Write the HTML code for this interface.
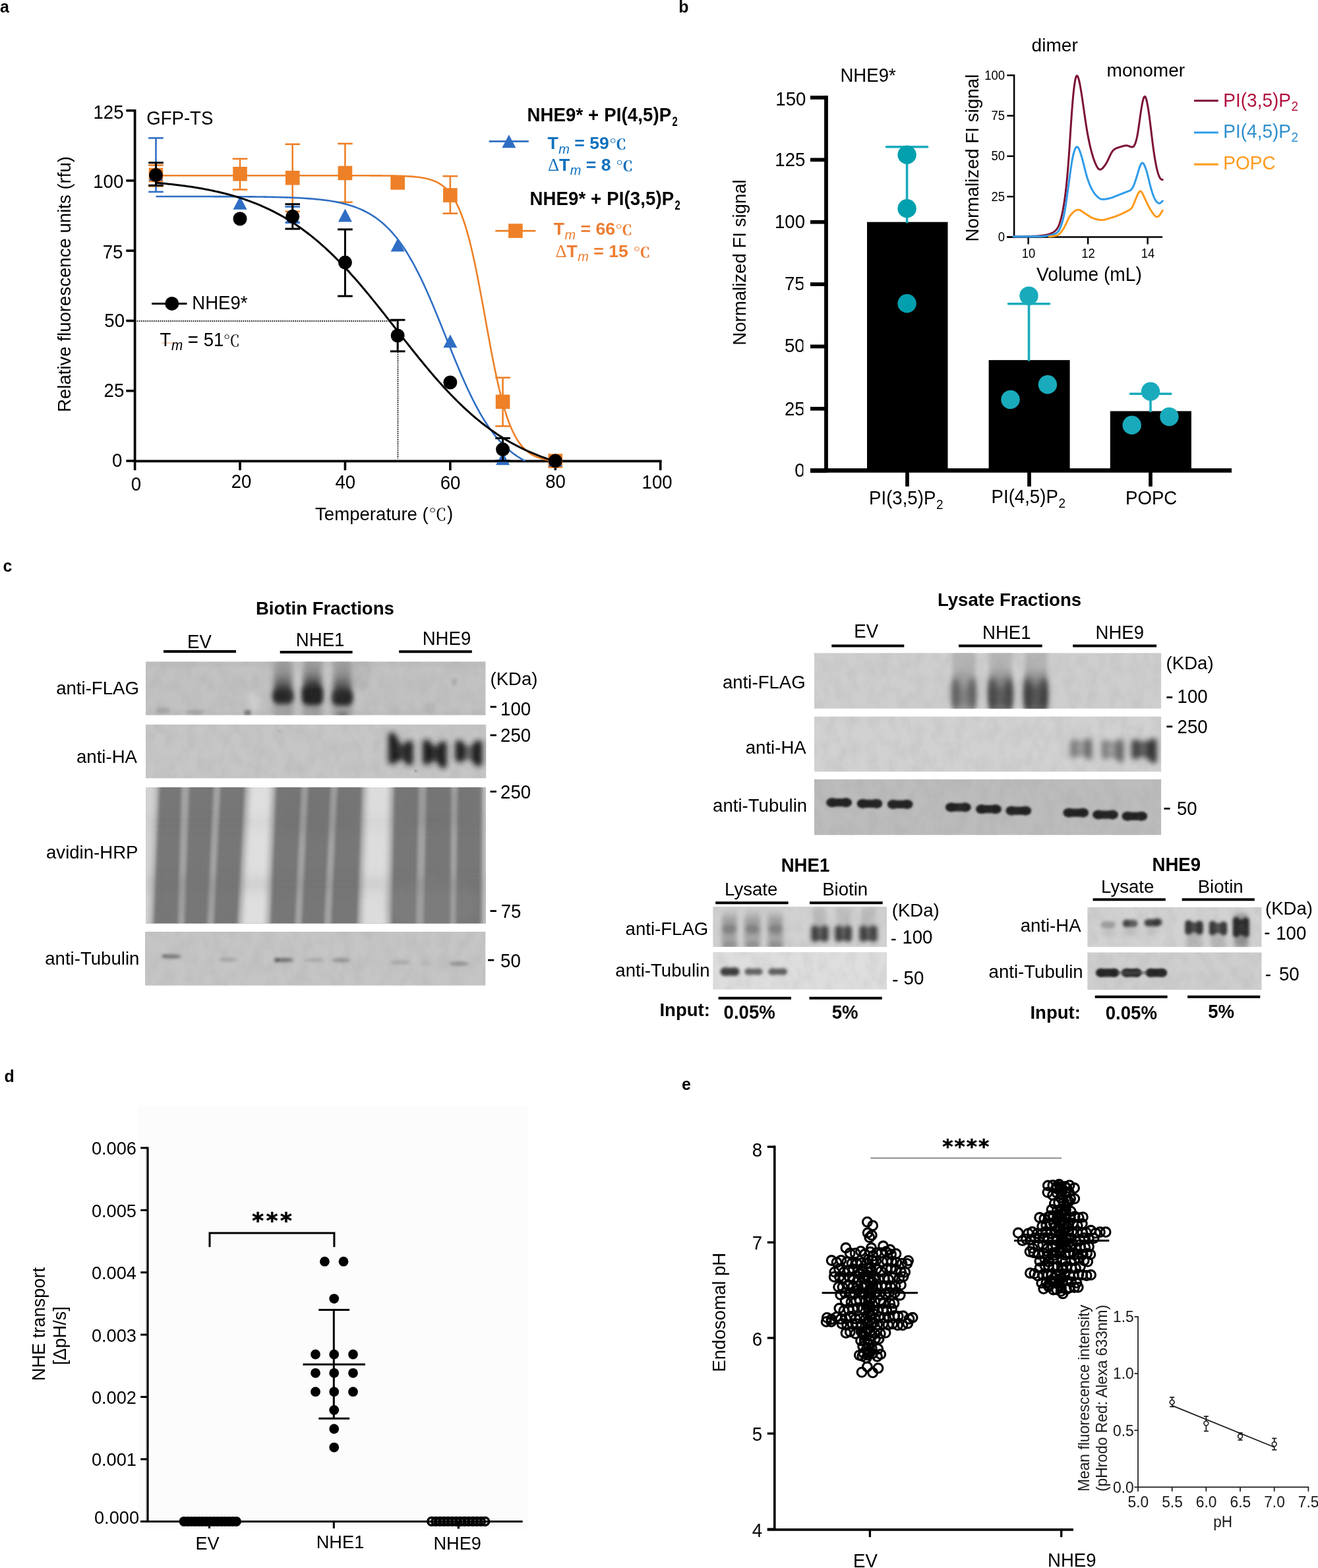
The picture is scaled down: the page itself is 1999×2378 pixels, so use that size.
<!DOCTYPE html>
<html lang="en">
<head>
<meta charset="utf-8">
<title>Figure</title>
<style>
html,body{margin:0;padding:0;background:#fff;}
body{width:1999px;height:2378px;overflow:hidden;}
svg{display:block;font-family:"Liberation Sans", sans-serif;}
text{white-space:pre;}
</style>
</head>
<body>
<svg width="1999" height="2378" viewBox="0 0 1999 2378">
<defs>
<filter id="b1" x="-30%" y="-30%" width="160%" height="160%"><feGaussianBlur stdDeviation="1.0"/></filter>
<filter id="b15" x="-30%" y="-30%" width="160%" height="160%"><feGaussianBlur stdDeviation="1.5"/></filter>
<filter id="b2" x="-30%" y="-30%" width="160%" height="160%"><feGaussianBlur stdDeviation="2.0"/></filter>
<filter id="b3" x="-30%" y="-30%" width="160%" height="160%"><feGaussianBlur stdDeviation="3.0"/></filter>
<filter id="b4" x="-30%" y="-30%" width="160%" height="160%"><feGaussianBlur stdDeviation="4.0"/></filter>
<filter id="b5" x="-30%" y="-30%" width="160%" height="160%"><feGaussianBlur stdDeviation="5.0"/></filter>
<filter id="b7" x="-30%" y="-30%" width="160%" height="160%"><feGaussianBlur stdDeviation="7.0"/></filter>
<linearGradient id="gsm1" x1="0" y1="0" x2="0" y2="1"><stop offset="0" stop-color="#6e6e6e" stop-opacity="0.35"/><stop offset="0.45" stop-color="#5a5a5a" stop-opacity="0.5"/><stop offset="0.8" stop-color="#323232" stop-opacity="0.85"/><stop offset="1" stop-color="#282828" stop-opacity="0.95"/></linearGradient>
<linearGradient id="gsm2" x1="0" y1="0" x2="0" y2="1"><stop offset="0" stop-color="#787878" stop-opacity="0.3"/><stop offset="0.35" stop-color="#646464" stop-opacity="0.5"/><stop offset="0.65" stop-color="#464646" stop-opacity="0.75"/><stop offset="1" stop-color="#5a5a5a" stop-opacity="0.6"/></linearGradient>
<linearGradient id="gR1a" x1="0" y1="0" x2="0" y2="1"><stop offset="0" stop-color="#a5a5a5" stop-opacity="0.55"/><stop offset="0.3" stop-color="#a0a0a0" stop-opacity="0.6"/><stop offset="0.5" stop-color="#919191" stop-opacity="0.8"/><stop offset="0.66" stop-color="#8c8c8c" stop-opacity="0.92"/><stop offset="0.85" stop-color="#8c8c8c" stop-opacity="0.92"/><stop offset="1" stop-color="#a5a5a5" stop-opacity="0.85"/></linearGradient>
<linearGradient id="gR1b" x1="0" y1="0" x2="0" y2="1"><stop offset="0" stop-color="#a5a5a5" stop-opacity="0.55"/><stop offset="0.3" stop-color="#a0a0a0" stop-opacity="0.6"/><stop offset="0.5" stop-color="#797979" stop-opacity="0.8"/><stop offset="0.66" stop-color="#5c5c5c" stop-opacity="0.92"/><stop offset="0.85" stop-color="#5c5c5c" stop-opacity="0.92"/><stop offset="1" stop-color="#757575" stop-opacity="0.85"/></linearGradient>
<linearGradient id="gR1c" x1="0" y1="0" x2="0" y2="1"><stop offset="0" stop-color="#a5a5a5" stop-opacity="0.55"/><stop offset="0.3" stop-color="#a0a0a0" stop-opacity="0.6"/><stop offset="0.5" stop-color="#727272" stop-opacity="0.8"/><stop offset="0.66" stop-color="#4e4e4e" stop-opacity="0.92"/><stop offset="0.85" stop-color="#4e4e4e" stop-opacity="0.92"/><stop offset="1" stop-color="#676767" stop-opacity="0.85"/></linearGradient>
<linearGradient id="gsm3" x1="0" y1="0" x2="0" y2="1"><stop offset="0" stop-color="#969696" stop-opacity="0.0"/><stop offset="0.3" stop-color="#6e6e6e" stop-opacity="0.5"/><stop offset="1" stop-color="#787878" stop-opacity="0.45"/></linearGradient>
<pattern id="grid" width="2.4" height="2.4" patternUnits="userSpaceOnUse"><rect width="2.4" height="2.4" fill="none"/><rect width="1.1" height="2.4" fill="#fff" opacity="0.13"/><rect width="2.4" height="1.1" fill="#000" opacity="0.06"/></pattern>
<filter id="grain" x="0" y="0" width="100%" height="100%" color-interpolation-filters="sRGB"><feTurbulence type="fractalNoise" baseFrequency="0.06 0.04" numOctaves="3" seed="7" result="n"/><feColorMatrix in="n" type="matrix" values="0 0 0 0 0.5  0 0 0 0 0.5  0 0 0 0 0.5  1.6 0 0 0 -0.62"/></filter>
</defs>
<g id="panel-a">
<text transform="translate(0 19.3) scale(1 1.005)" font-size="25" font-weight="bold">a</text>
<line x1="204.6" y1="486.78" x2="603.15" y2="486.78" stroke="#000" stroke-width="1.7" stroke-dasharray="1.7 1.45"/>
<line x1="603.45" y1="486.48" x2="603.45" y2="695.6" stroke="#000" stroke-width="1.7" stroke-dasharray="1.7 1.45"/>
<line x1="204.6" y1="165.9" x2="204.6" y2="700.9" stroke="#000" stroke-width="3.7"/>
<line x1="204.6" y1="699.4" x2="1003.5" y2="699.4" stroke="#000" stroke-width="3.9"/>
<line x1="191.3" y1="699" x2="204.6" y2="699" stroke="#000" stroke-width="3.6"/>
<text transform="translate(185.3 708.3) scale(1 1.045)" font-size="27.6" text-anchor="end">0</text>
<line x1="191.3" y1="592.74" x2="204.6" y2="592.74" stroke="#000" stroke-width="3.6"/>
<text transform="translate(188.3 602) scale(1 1.045)" font-size="27.6" text-anchor="end">25</text>
<line x1="191.3" y1="486.48" x2="204.6" y2="486.48" stroke="#000" stroke-width="3.6"/>
<text transform="translate(189 496.2) scale(1 1.045)" font-size="27.6" text-anchor="end">50</text>
<line x1="191.3" y1="380.22" x2="204.6" y2="380.22" stroke="#000" stroke-width="3.6"/>
<text transform="translate(186.4 392) scale(1 1.045)" font-size="27.6" text-anchor="end">75</text>
<line x1="191.3" y1="273.96" x2="204.6" y2="273.96" stroke="#000" stroke-width="3.6"/>
<text transform="translate(187.3 285) scale(1 1.045)" font-size="27.6" text-anchor="end">100</text>
<line x1="191.3" y1="167.7" x2="204.6" y2="167.7" stroke="#000" stroke-width="3.6"/>
<text transform="translate(187.5 179.9) scale(1 1.045)" font-size="27.6" text-anchor="end">125</text>
<line x1="204.6" y1="699" x2="204.6" y2="713.2" stroke="#000" stroke-width="3.6"/>
<text transform="translate(206.5 744) scale(1 1.045)" font-size="27.6" text-anchor="middle">0</text>
<line x1="364.02" y1="699" x2="364.02" y2="713.2" stroke="#000" stroke-width="3.6"/>
<text transform="translate(366.1 740.3) scale(1 1.045)" font-size="27.6" text-anchor="middle">20</text>
<line x1="523.44" y1="699" x2="523.44" y2="713.2" stroke="#000" stroke-width="3.6"/>
<text transform="translate(523.8 741) scale(1 1.045)" font-size="27.6" text-anchor="middle">40</text>
<line x1="682.86" y1="699" x2="682.86" y2="713.2" stroke="#000" stroke-width="3.6"/>
<text transform="translate(683.1 742) scale(1 1.045)" font-size="27.6" text-anchor="middle">60</text>
<line x1="842.28" y1="699" x2="842.28" y2="713.2" stroke="#000" stroke-width="3.6"/>
<text transform="translate(842.6 739.5) scale(1 1.045)" font-size="27.6" text-anchor="middle">80</text>
<line x1="1001.7" y1="699" x2="1001.7" y2="713.2" stroke="#000" stroke-width="3.6"/>
<text transform="translate(996.6 741) scale(1 1.045)" font-size="27.6" text-anchor="middle">100</text>
<text transform="translate(107.3 431) rotate(-90) scale(1 1.006)" font-size="27.6" text-anchor="middle">Relative fluorescence units (rfu)</text>
<g transform="translate(582.6 788.9)"><text transform="translate(-104.55 0) scale(1.000 1.009)" font-size="27.6">Temperature (</text><text transform="translate(67.55 0) scale(1.000 0.880)" font-size="27.5" font-family="'Noto Serif CJK SC', serif">℃</text><text transform="translate(95.35 0) scale(1.000 1.045)" font-size="27.6">)</text></g>
<text transform="translate(222.2 188.7) scale(1 1.045)" font-size="27.6">GFP-TS</text>
<path d="M236.48 266.27 L239.53 266.27 L242.57 266.27 L245.62 266.27 L248.66 266.27 L251.71 266.27 L254.75 266.27 L257.79 266.27 L260.84 266.27 L263.88 266.27 L266.93 266.27 L269.97 266.27 L273.01 266.27 L276.06 266.27 L279.1 266.27 L282.15 266.27 L285.19 266.27 L288.24 266.27 L291.28 266.27 L294.32 266.27 L297.37 266.27 L300.41 266.27 L303.46 266.27 L306.5 266.27 L309.54 266.27 L312.59 266.27 L315.63 266.27 L318.68 266.27 L321.72 266.27 L324.77 266.27 L327.81 266.27 L330.85 266.27 L333.9 266.27 L336.94 266.27 L339.99 266.27 L343.03 266.27 L346.08 266.27 L349.12 266.27 L352.16 266.27 L355.21 266.27 L358.25 266.27 L361.3 266.27 L364.34 266.27 L367.38 266.27 L370.43 266.27 L373.47 266.27 L376.52 266.27 L379.56 266.27 L382.61 266.27 L385.65 266.27 L388.69 266.27 L391.74 266.27 L394.78 266.27 L397.83 266.27 L400.87 266.27 L403.92 266.27 L406.96 266.27 L410 266.27 L413.05 266.27 L416.09 266.27 L419.14 266.27 L422.18 266.27 L425.22 266.27 L428.27 266.27 L431.31 266.27 L434.36 266.27 L437.4 266.27 L440.45 266.27 L443.49 266.27 L446.53 266.27 L449.58 266.27 L452.62 266.27 L455.67 266.27 L458.71 266.27 L461.75 266.27 L464.8 266.27 L467.84 266.27 L470.89 266.27 L473.93 266.27 L476.98 266.27 L480.02 266.27 L483.06 266.27 L486.11 266.27 L489.15 266.27 L492.2 266.27 L495.24 266.27 L498.29 266.27 L501.33 266.27 L504.37 266.27 L507.42 266.28 L510.46 266.28 L513.51 266.28 L516.55 266.28 L519.59 266.28 L522.64 266.28 L525.68 266.28 L528.73 266.28 L531.77 266.28 L534.82 266.29 L537.86 266.29 L540.9 266.29 L543.95 266.3 L546.99 266.3 L550.04 266.3 L553.08 266.31 L556.13 266.32 L559.17 266.32 L562.21 266.33 L565.26 266.34 L568.3 266.36 L571.35 266.37 L574.39 266.39 L577.43 266.4 L580.48 266.43 L583.52 266.45 L586.57 266.48 L589.61 266.52 L592.66 266.56 L595.7 266.61 L598.74 266.67 L601.79 266.73 L604.83 266.81 L607.88 266.9 L610.92 267 L613.96 267.13 L617.01 267.27 L620.05 267.44 L623.1 267.63 L626.14 267.86 L629.19 268.13 L632.23 268.44 L635.27 268.8 L638.32 269.22 L641.36 269.71 L644.41 270.28 L647.45 270.95 L650.5 271.73 L653.54 272.63 L656.58 273.68 L659.63 274.89 L662.67 276.31 L665.72 277.95 L668.76 279.85 L671.8 282.04 L674.85 284.58 L677.89 287.5 L680.94 290.86 L683.98 294.72 L687.03 299.14 L690.07 304.17 L693.11 309.9 L696.16 316.38 L699.2 323.67 L702.25 331.86 L705.29 340.97 L708.34 351.07 L711.38 362.16 L714.42 374.26 L717.47 387.33 L720.51 401.34 L723.56 416.19 L726.6 431.78 L729.64 447.95 L732.69 464.53 L735.73 481.35 L738.78 498.19 L741.82 514.85 L744.87 531.15 L747.91 546.91 L750.95 561.97 L754 576.22 L757.04 589.55 L760.09 601.92 L763.13 613.28 L766.17 623.64 L769.22 633.02 L772.26 641.45 L775.31 648.98 L778.35 655.67 L781.4 661.59 L784.44 666.8 L787.48 671.38 L790.53 675.38 L793.57 678.87 L796.62 681.91 L799.66 684.54 L802.71 686.82 L805.75 688.8 L808.79 690.51 L811.84 691.98 L814.88 693.25 L817.93 694.34 L820.97 695.28 L824.01 696.08 L827.06 696.78 L830.1 697.37 L833.15 697.89 L836.19 698.33 L839.24 698.7 L842.28 699" fill="none" stroke="#EE8027" stroke-width="2.6" stroke-linejoin="round"/>
<line x1="236.48" y1="250.58" x2="236.48" y2="282.46" stroke="#EE8027" stroke-width="2.6"/>
<line x1="225.18" y1="250.58" x2="247.78" y2="250.58" stroke="#EE8027" stroke-width="2.6"/>
<line x1="225.18" y1="282.46" x2="247.78" y2="282.46" stroke="#EE8027" stroke-width="2.6"/>
<line x1="364.02" y1="240.81" x2="364.02" y2="287.56" stroke="#EE8027" stroke-width="2.6"/>
<line x1="352.72" y1="240.81" x2="375.32" y2="240.81" stroke="#EE8027" stroke-width="2.6"/>
<line x1="352.72" y1="287.56" x2="375.32" y2="287.56" stroke="#EE8027" stroke-width="2.6"/>
<line x1="443.73" y1="218.7" x2="443.73" y2="320.71" stroke="#EE8027" stroke-width="2.6"/>
<line x1="432.43" y1="218.7" x2="455.03" y2="218.7" stroke="#EE8027" stroke-width="2.6"/>
<line x1="432.43" y1="320.71" x2="455.03" y2="320.71" stroke="#EE8027" stroke-width="2.6"/>
<line x1="523.44" y1="217.85" x2="523.44" y2="306.69" stroke="#EE8027" stroke-width="2.6"/>
<line x1="512.14" y1="217.85" x2="534.74" y2="217.85" stroke="#EE8027" stroke-width="2.6"/>
<line x1="512.14" y1="306.69" x2="534.74" y2="306.69" stroke="#EE8027" stroke-width="2.6"/>
<line x1="682.86" y1="267.16" x2="682.86" y2="323.69" stroke="#EE8027" stroke-width="2.6"/>
<line x1="671.56" y1="267.16" x2="694.16" y2="267.16" stroke="#EE8027" stroke-width="2.6"/>
<line x1="671.56" y1="323.69" x2="694.16" y2="323.69" stroke="#EE8027" stroke-width="2.6"/>
<line x1="762.57" y1="572.76" x2="762.57" y2="646.3" stroke="#EE8027" stroke-width="2.6"/>
<line x1="751.27" y1="572.76" x2="773.87" y2="572.76" stroke="#EE8027" stroke-width="2.6"/>
<line x1="751.27" y1="646.3" x2="773.87" y2="646.3" stroke="#EE8027" stroke-width="2.6"/>
<rect x="225.68" y="254.66" width="21.6" height="21.6" fill="#EE8027"/>
<rect x="353.22" y="252.96" width="21.6" height="21.6" fill="#EE8027"/>
<rect x="432.93" y="258.91" width="21.6" height="21.6" fill="#EE8027"/>
<rect x="512.64" y="251.68" width="21.6" height="21.6" fill="#EE8027"/>
<rect x="592.35" y="266.14" width="21.6" height="21.6" fill="#EE8027"/>
<rect x="672.06" y="285.26" width="21.6" height="21.6" fill="#EE8027"/>
<rect x="751.77" y="598.52" width="21.6" height="21.6" fill="#EE8027"/>
<rect x="831.48" y="688.2" width="21.6" height="21.6" fill="#EE8027"/>
<path d="M236.48 297.98 L239.53 297.98 L242.57 297.98 L245.62 297.98 L248.66 297.99 L251.71 297.99 L254.75 297.99 L257.79 297.99 L260.84 297.99 L263.88 297.99 L266.93 297.99 L269.97 298 L273.01 298 L276.06 298 L279.1 298 L282.15 298.01 L285.19 298.01 L288.24 298.01 L291.28 298.02 L294.32 298.02 L297.37 298.02 L300.41 298.03 L303.46 298.03 L306.5 298.04 L309.54 298.04 L312.59 298.05 L315.63 298.05 L318.68 298.06 L321.72 298.07 L324.77 298.08 L327.81 298.08 L330.85 298.09 L333.9 298.1 L336.94 298.11 L339.99 298.12 L343.03 298.13 L346.08 298.15 L349.12 298.16 L352.16 298.17 L355.21 298.19 L358.25 298.2 L361.3 298.22 L364.34 298.24 L367.38 298.26 L370.43 298.28 L373.47 298.31 L376.52 298.33 L379.56 298.36 L382.61 298.39 L385.65 298.42 L388.69 298.45 L391.74 298.49 L394.78 298.53 L397.83 298.57 L400.87 298.62 L403.92 298.66 L406.96 298.72 L410 298.77 L413.05 298.83 L416.09 298.9 L419.14 298.96 L422.18 299.04 L425.22 299.12 L428.27 299.2 L431.31 299.29 L434.36 299.39 L437.4 299.5 L440.45 299.61 L443.49 299.73 L446.53 299.87 L449.58 300.01 L452.62 300.16 L455.67 300.32 L458.71 300.49 L461.75 300.68 L464.8 300.88 L467.84 301.09 L470.89 301.33 L473.93 301.57 L476.98 301.84 L480.02 302.12 L483.06 302.43 L486.11 302.76 L489.15 303.11 L492.2 303.49 L495.24 303.89 L498.29 304.33 L501.33 304.79 L504.37 305.29 L507.42 305.83 L510.46 306.4 L513.51 307.02 L516.55 307.67 L519.59 308.38 L522.64 309.13 L525.68 309.94 L528.73 310.8 L531.77 311.73 L534.82 312.72 L537.86 313.77 L540.9 314.9 L543.95 316.11 L546.99 317.39 L550.04 318.77 L553.08 320.24 L556.13 321.8 L559.17 323.47 L562.21 325.24 L565.26 327.13 L568.3 329.14 L571.35 331.28 L574.39 333.55 L577.43 335.96 L580.48 338.52 L583.52 341.23 L586.57 344.1 L589.61 347.13 L592.66 350.34 L595.7 353.72 L598.74 357.29 L601.79 361.05 L604.83 365 L607.88 369.15 L610.92 373.5 L613.96 378.06 L617.01 382.83 L620.05 387.81 L623.1 393 L626.14 398.39 L629.19 404 L632.23 409.81 L635.27 415.82 L638.32 422.03 L641.36 428.42 L644.41 434.99 L647.45 441.74 L650.5 448.64 L653.54 455.68 L656.58 462.86 L659.63 470.15 L662.67 477.54 L665.72 485.01 L668.76 492.55 L671.8 500.13 L674.85 507.74 L677.89 515.35 L680.94 522.96 L683.98 530.52 L687.03 538.04 L690.07 545.49 L693.11 552.85 L696.16 560.1 L699.2 567.23 L702.25 574.23 L705.29 581.07 L708.34 587.76 L711.38 594.27 L714.42 600.59 L717.47 606.73 L720.51 612.67 L723.56 618.41 L726.6 623.94 L729.64 629.27 L732.69 634.38 L735.73 639.29 L738.78 643.98 L741.82 648.47 L744.87 652.75 L747.91 656.83 L750.95 660.71 L754 664.4 L757.04 667.91 L760.09 671.23 L763.13 674.37 L766.17 677.35 L769.22 680.16 L772.26 682.82 L775.31 685.32 L778.35 687.68 L781.4 689.91 L784.44 692 L787.48 693.96 L790.53 695.81 L793.57 697.55 L796.62 699" fill="none" stroke="#2F6EC4" stroke-width="2.6" stroke-linejoin="round"/>
<line x1="236.48" y1="209.35" x2="236.48" y2="290.96" stroke="#2F6EC4" stroke-width="2.6"/>
<line x1="225.18" y1="209.35" x2="247.78" y2="209.35" stroke="#2F6EC4" stroke-width="2.6"/>
<line x1="225.18" y1="290.96" x2="247.78" y2="290.96" stroke="#2F6EC4" stroke-width="2.6"/>
<line x1="443.73" y1="313.49" x2="443.73" y2="337.72" stroke="#2F6EC4" stroke-width="2.6"/>
<line x1="432.43" y1="313.49" x2="455.03" y2="313.49" stroke="#2F6EC4" stroke-width="2.6"/>
<line x1="432.43" y1="337.72" x2="455.03" y2="337.72" stroke="#2F6EC4" stroke-width="2.6"/>
<path d="M236.48 253.96 L246.98 273.96 L225.98 273.96 Z" fill="#2F6EC4"/>
<path d="M364.02 297.74 L374.52 317.74 L353.52 317.74 Z" fill="#2F6EC4"/>
<path d="M443.73 317.72 L454.23 337.72 L433.23 337.72 Z" fill="#2F6EC4"/>
<path d="M523.44 316.44 L533.94 336.44 L512.94 336.44 Z" fill="#2F6EC4"/>
<path d="M603.15 361.49 L613.65 381.49 L592.65 381.49 Z" fill="#2F6EC4"/>
<path d="M682.86 507.28 L693.36 527.28 L672.36 527.28 Z" fill="#2F6EC4"/>
<path d="M762.57 685.37 L773.07 705.37 L752.07 705.37 Z" fill="#2F6EC4"/>
<path d="M842.28 687.5 L852.78 707.5 L831.78 707.5 Z" fill="#2F6EC4"/>
<path d="M236.48 277.19 L239.53 277.46 L242.57 277.73 L245.62 278.01 L248.66 278.3 L251.71 278.61 L254.75 278.92 L257.79 279.24 L260.84 279.57 L263.88 279.91 L266.93 280.27 L269.97 280.64 L273.01 281.01 L276.06 281.4 L279.1 281.81 L282.15 282.22 L285.19 282.65 L288.24 283.1 L291.28 283.56 L294.32 284.03 L297.37 284.52 L300.41 285.02 L303.46 285.54 L306.5 286.08 L309.54 286.63 L312.59 287.21 L315.63 287.8 L318.68 288.4 L321.72 289.03 L324.77 289.68 L327.81 290.35 L330.85 291.04 L333.9 291.75 L336.94 292.48 L339.99 293.24 L343.03 294.01 L346.08 294.82 L349.12 295.64 L352.16 296.5 L355.21 297.38 L358.25 298.28 L361.3 299.21 L364.34 300.17 L367.38 301.16 L370.43 302.18 L373.47 303.23 L376.52 304.31 L379.56 305.42 L382.61 306.56 L385.65 307.73 L388.69 308.94 L391.74 310.19 L394.78 311.46 L397.83 312.78 L400.87 314.13 L403.92 315.52 L406.96 316.95 L410 318.41 L413.05 319.92 L416.09 321.46 L419.14 323.05 L422.18 324.68 L425.22 326.35 L428.27 328.06 L431.31 329.82 L434.36 331.62 L437.4 333.47 L440.45 335.36 L443.49 337.3 L446.53 339.29 L449.58 341.33 L452.62 343.41 L455.67 345.54 L458.71 347.72 L461.75 349.95 L464.8 352.22 L467.84 354.55 L470.89 356.93 L473.93 359.36 L476.98 361.84 L480.02 364.37 L483.06 366.95 L486.11 369.58 L489.15 372.27 L492.2 375 L495.24 377.78 L498.29 380.62 L501.33 383.5 L504.37 386.44 L507.42 389.42 L510.46 392.45 L513.51 395.53 L516.55 398.66 L519.59 401.83 L522.64 405.05 L525.68 408.32 L528.73 411.63 L531.77 414.98 L534.82 418.38 L537.86 421.81 L540.9 425.29 L543.95 428.8 L546.99 432.35 L550.04 435.93 L553.08 439.55 L556.13 443.2 L559.17 446.88 L562.21 450.59 L565.26 454.33 L568.3 458.09 L571.35 461.87 L574.39 465.67 L577.43 469.5 L580.48 473.34 L583.52 477.19 L586.57 481.06 L589.61 484.94 L592.66 488.82 L595.7 492.71 L598.74 496.61 L601.79 500.5 L604.83 504.4 L607.88 508.29 L610.92 512.18 L613.96 516.06 L617.01 519.93 L620.05 523.79 L623.1 527.63 L626.14 531.46 L629.19 535.27 L632.23 539.06 L635.27 542.83 L638.32 546.57 L641.36 550.29 L644.41 553.98 L647.45 557.64 L650.5 561.27 L653.54 564.86 L656.58 568.42 L659.63 571.94 L662.67 575.43 L665.72 578.88 L668.76 582.29 L671.8 585.65 L674.85 588.97 L677.89 592.25 L680.94 595.49 L683.98 598.68 L687.03 601.82 L690.07 604.91 L693.11 607.96 L696.16 610.96 L699.2 613.91 L702.25 616.81 L705.29 619.66 L708.34 622.46 L711.38 625.2 L714.42 627.9 L717.47 630.55 L720.51 633.15 L723.56 635.69 L726.6 638.19 L729.64 640.63 L732.69 643.03 L735.73 645.37 L738.78 647.66 L741.82 649.91 L744.87 652.1 L747.91 654.25 L750.95 656.34 L754 658.39 L757.04 660.39 L760.09 662.35 L763.13 664.25 L766.17 666.12 L769.22 667.93 L772.26 669.7 L775.31 671.43 L778.35 673.11 L781.4 674.76 L784.44 676.36 L787.48 677.91 L790.53 679.43 L793.57 680.91 L796.62 682.35 L799.66 683.75 L802.71 685.11 L805.75 686.44 L808.79 687.72 L811.84 688.98 L814.88 690.2 L817.93 691.38 L820.97 692.54 L824.01 693.66 L827.06 694.74 L830.1 695.8 L833.15 696.83 L836.19 697.83 L839.24 698.79 L842.28 699" fill="none" stroke="#000" stroke-width="3" stroke-linejoin="round"/>
<line x1="236.48" y1="246.76" x2="236.48" y2="281.19" stroke="#000" stroke-width="3"/>
<line x1="225.18" y1="246.76" x2="247.78" y2="246.76" stroke="#000" stroke-width="3"/>
<line x1="225.18" y1="281.19" x2="247.78" y2="281.19" stroke="#000" stroke-width="3"/>
<line x1="443.73" y1="309.66" x2="443.73" y2="347.07" stroke="#000" stroke-width="3"/>
<line x1="432.43" y1="309.66" x2="455.03" y2="309.66" stroke="#000" stroke-width="3"/>
<line x1="432.43" y1="347.07" x2="455.03" y2="347.07" stroke="#000" stroke-width="3"/>
<line x1="523.44" y1="347.92" x2="523.44" y2="449.08" stroke="#000" stroke-width="3"/>
<line x1="512.14" y1="347.92" x2="534.74" y2="347.92" stroke="#000" stroke-width="3"/>
<line x1="512.14" y1="449.08" x2="534.74" y2="449.08" stroke="#000" stroke-width="3"/>
<line x1="603.15" y1="485.2" x2="603.15" y2="532.81" stroke="#000" stroke-width="3"/>
<line x1="591.85" y1="485.2" x2="614.45" y2="485.2" stroke="#000" stroke-width="3"/>
<line x1="591.85" y1="532.81" x2="614.45" y2="532.81" stroke="#000" stroke-width="3"/>
<line x1="762.57" y1="664.57" x2="762.57" y2="699" stroke="#000" stroke-width="3"/>
<line x1="751.27" y1="664.57" x2="773.87" y2="664.57" stroke="#000" stroke-width="3"/>
<line x1="751.27" y1="699" x2="773.87" y2="699" stroke="#000" stroke-width="3"/>
<circle cx="236.48" cy="265.46" r="10.5" fill="#000"/>
<circle cx="364.02" cy="331.77" r="10.5" fill="#000"/>
<circle cx="443.73" cy="328.37" r="10.5" fill="#000"/>
<circle cx="523.44" cy="398.07" r="10.5" fill="#000"/>
<circle cx="603.15" cy="509.01" r="10.5" fill="#000"/>
<circle cx="682.86" cy="579.99" r="10.5" fill="#000"/>
<circle cx="762.57" cy="681.57" r="10.5" fill="#000"/>
<circle cx="842.28" cy="699" r="10.5" fill="#000"/>
<line x1="230.2" y1="460.4" x2="283.4" y2="460.4" stroke="#000" stroke-width="3"/>
<circle cx="260.8" cy="460.4" r="10.5" fill="#000"/>
<text transform="translate(291.2 469.1) scale(1 1.045)" font-size="27.6">NHE9*</text>
<line x1="245.2" y1="520.2" x2="267.9" y2="520.2" stroke="#F4B183" stroke-width="1.2"/>
<g transform="translate(242.6 524.8)"><text transform="translate(0 0) scale(1.000 1.045)" font-size="27.6">T</text><text transform="translate(17.36 6.3) scale(1.000 1.045)" font-size="20.7" font-style="italic">m</text><text transform="translate(34.6 0) scale(1.000 1.045)" font-size="27.6"> = 51</text><text transform="translate(96.16 0) scale(1.000 0.900)" font-size="25.39" font-family="'Noto Serif CJK SC', serif">℃</text></g>
<g transform="translate(799.4 183.6)"><text transform="translate(0 0) scale(1.000 1.045)" font-size="27.6" font-weight="bold" letter-spacing="0.12">NHE9* + PI(4,5)P</text><text transform="translate(220.17 7.5) scale(0.780 1.045)" font-size="19" font-weight="bold">2</text></g>
<line x1="741.7" y1="214.4" x2="801.8" y2="214.4" stroke="#2F6EC4" stroke-width="2.6"/>
<path d="M771.9 204.2 L782.4 224.2 L761.4 224.2 Z" fill="#2F6EC4"/>
<g transform="translate(830.6 226.2)" fill="#0F71BE"><text transform="translate(0 0)" font-size="26.6" font-weight="bold">T</text><text transform="translate(16.75 6.3)" font-size="19.95" font-style="italic">m</text><text transform="translate(33.37 0)" font-size="26.6" font-weight="bold"> = 59</text><text transform="translate(93.57 0) scale(1.000 0.800)" font-size="26.07" font-weight="bold" font-family="'Noto Serif CJK SC', serif">℃</text></g>
<g transform="translate(830.9 258.8)" fill="#0F71BE"><text transform="translate(0 0)" font-size="26.6" font-family="'Liberation Serif', serif">Δ</text><text transform="translate(17.11 0)" font-size="26.6" font-weight="bold">T</text><text transform="translate(33.85 6.3)" font-size="19.95" font-style="italic">m</text><text transform="translate(50.47 0)" font-size="26.6" font-weight="bold"> = 8 </text><text transform="translate(103.27 0) scale(1.000 0.800)" font-size="26.07" font-weight="bold" font-family="'Noto Serif CJK SC', serif">℃</text></g>
<g transform="translate(803.4 310.5)"><text transform="translate(0 0) scale(1.000 1.045)" font-size="27.6" font-weight="bold" letter-spacing="0.12">NHE9* + PI(3,5)P</text><text transform="translate(220.17 7.5) scale(0.780 1.045)" font-size="19" font-weight="bold">2</text></g>
<line x1="751.3" y1="350.1" x2="812.4" y2="350.1" stroke="#EE8027" stroke-width="2.6"/>
<rect x="771.1" y="339.3" width="21.6" height="21.6" fill="#EE8027"/>
<g transform="translate(839.7 356.4)" fill="#ED7D31"><text transform="translate(0 0)" font-size="26.6" font-weight="bold">T</text><text transform="translate(16.75 6.3)" font-size="19.95" font-style="italic">m</text><text transform="translate(33.37 0)" font-size="26.6" font-weight="bold"> = 66</text><text transform="translate(93.57 0) scale(1.000 0.800)" font-size="26.07" font-weight="bold" font-family="'Noto Serif CJK SC', serif">℃</text></g>
<g transform="translate(842.5 389.8)" fill="#ED7D31"><text transform="translate(0 0)" font-size="26.6" font-family="'Liberation Serif', serif">Δ</text><text transform="translate(17.11 0)" font-size="26.6" font-weight="bold">T</text><text transform="translate(33.85 6.3)" font-size="19.95" font-style="italic">m</text><text transform="translate(50.47 0)" font-size="26.6" font-weight="bold"> = 15 </text><text transform="translate(118.06 0) scale(1.000 0.800)" font-size="26.07" font-weight="bold" font-family="'Noto Serif CJK SC', serif">℃</text></g>
</g>
<g id="panel-b">
<text transform="translate(1029.2 19.3) scale(1 1.005)" font-size="25" font-weight="bold">b</text>
<rect x="1315" y="336.7" width="122.5" height="378.5" fill="#000"/>
<rect x="1499.6" y="546.1" width="123" height="169.1" fill="#000"/>
<rect x="1683.8" y="623.5" width="123.1" height="91.7" fill="#000"/>
<line x1="1253" y1="145.08" x2="1253" y2="716.8" stroke="#000" stroke-width="5.8"/>
<line x1="1229" y1="713.55" x2="1868" y2="713.55" stroke="#000" stroke-width="6.5"/>
<line x1="1229" y1="714.2" x2="1253" y2="714.2" stroke="#000" stroke-width="5.7"/>
<line x1="1229" y1="619.83" x2="1253" y2="619.83" stroke="#000" stroke-width="5.7"/>
<line x1="1229" y1="525.46" x2="1253" y2="525.46" stroke="#000" stroke-width="5.7"/>
<line x1="1229" y1="431.09" x2="1253" y2="431.09" stroke="#000" stroke-width="5.7"/>
<line x1="1229" y1="336.72" x2="1253" y2="336.72" stroke="#000" stroke-width="5.7"/>
<line x1="1229" y1="242.35" x2="1253" y2="242.35" stroke="#000" stroke-width="5.7"/>
<line x1="1229" y1="147.98" x2="1253" y2="147.98" stroke="#000" stroke-width="5.7"/>
<clipPath id="bclip"><rect x="1100" y="100" width="118.4" height="700"/></clipPath>
<text transform="translate(1221 346.4) scale(1 1.045)" font-size="27.6" text-anchor="end">100</text>
<text transform="translate(1221.4 252.4) scale(1 1.045)" font-size="27.6" text-anchor="end">125</text>
<text transform="translate(1222.4 160.1) scale(1 1.045)" font-size="27.6" text-anchor="end">150</text>
<g clip-path="url(#bclip)">
<text transform="translate(1220.6 723.2) scale(1 1.045)" font-size="27.6" text-anchor="end">0</text>
<text transform="translate(1220.6 629.6) scale(1 1.045)" font-size="27.6" text-anchor="end">25</text>
<text transform="translate(1220.6 534.2) scale(1 1.045)" font-size="27.6" text-anchor="end">50</text>
<text transform="translate(1220.7 440.3) scale(1 1.045)" font-size="27.6" text-anchor="end">75</text>
</g>
<rect x="1218.3" y="704.2" width="0.7" height="19" fill="#a8a8a8"/>
<rect x="1218.3" y="610.6" width="0.7" height="19" fill="#a8a8a8"/>
<rect x="1218.3" y="515.2" width="0.7" height="19" fill="#a8a8a8"/>
<line x1="1376" y1="714.2" x2="1376" y2="737.8" stroke="#000" stroke-width="5.7"/>
<line x1="1561" y1="714.2" x2="1561" y2="737.8" stroke="#000" stroke-width="5.7"/>
<line x1="1745" y1="714.2" x2="1745" y2="737.8" stroke="#000" stroke-width="5.7"/>
<g transform="translate(1374.3 765.2)"><text transform="translate(-56.2 0) scale(1.000 1.045)" font-size="27.6">PI(3,5)P</text><text transform="translate(45.63 7) scale(1.000 1.045)" font-size="19">2</text></g>
<g transform="translate(1559.8 763.3)"><text transform="translate(-56.2 0) scale(1.000 1.045)" font-size="27.6">PI(4,5)P</text><text transform="translate(45.63 7) scale(1.000 1.045)" font-size="19">2</text></g>
<text transform="translate(1746.2 765.2) scale(1 1.045)" font-size="27.6" text-anchor="middle">POPC</text>
<text transform="translate(1274.4 123.9) scale(1 1.045)" font-size="27.6">NHE9*</text>
<text transform="translate(1130.5 398) rotate(-90) scale(1 1.012)" font-size="27.6" text-anchor="middle">Normalized FI signal</text>
<line x1="1375.6" y1="222.8" x2="1375.6" y2="338.2" stroke="#19ABBC" stroke-width="3.6"/>
<line x1="1344.5" y1="222.8" x2="1406.6" y2="222.8" stroke="#19ABBC" stroke-width="3.6" stroke-linecap="round"/>
<line x1="1560.5" y1="460.8" x2="1560.5" y2="547.6" stroke="#19ABBC" stroke-width="3.6"/>
<line x1="1529.5" y1="460.8" x2="1591.6" y2="460.8" stroke="#19ABBC" stroke-width="3.6" stroke-linecap="round"/>
<line x1="1745" y1="597.2" x2="1745" y2="625" stroke="#19ABBC" stroke-width="3.6"/>
<line x1="1714.6" y1="597.2" x2="1775.8" y2="597.2" stroke="#19ABBC" stroke-width="3.6" stroke-linecap="round"/>
<circle cx="1375.6" cy="234.7" r="14.2" fill="#02A0AE"/>
<circle cx="1375.6" cy="316.3" r="14.2" fill="#02A0AE"/>
<circle cx="1375.6" cy="460.3" r="14.2" fill="#02A0AE"/>
<circle cx="1560.5" cy="448.6" r="14.2" fill="#19ABBC"/>
<circle cx="1532.5" cy="606" r="14.2" fill="#19ABBC"/>
<circle cx="1588.9" cy="583.3" r="14.2" fill="#19ABBC"/>
<circle cx="1745" cy="593.8" r="14.2" fill="#19ABBC"/>
<circle cx="1716.7" cy="644.8" r="14.2" fill="#19ABBC"/>
<circle cx="1773.4" cy="632" r="14.2" fill="#19ABBC"/>
<line x1="1538.1" y1="113" x2="1538.1" y2="360.7" stroke="#000" stroke-width="2.5"/>
<line x1="1527.3" y1="359.5" x2="1763.2" y2="359.5" stroke="#000" stroke-width="2.5"/>
<line x1="1527.3" y1="359.5" x2="1538.1" y2="359.5" stroke="#000" stroke-width="2.5"/>
<text transform="translate(1524 366.1) scale(1 1.045)" font-size="18.5" text-anchor="end">0</text>
<line x1="1527.3" y1="298.18" x2="1538.1" y2="298.18" stroke="#000" stroke-width="2.5"/>
<text transform="translate(1524 304.78) scale(1 1.045)" font-size="18.5" text-anchor="end">25</text>
<line x1="1527.3" y1="236.85" x2="1538.1" y2="236.85" stroke="#000" stroke-width="2.5"/>
<text transform="translate(1524 243.45) scale(1 1.045)" font-size="18.5" text-anchor="end">50</text>
<line x1="1527.3" y1="175.53" x2="1538.1" y2="175.53" stroke="#000" stroke-width="2.5"/>
<text transform="translate(1524 182.12) scale(1 1.045)" font-size="18.5" text-anchor="end">75</text>
<line x1="1527.3" y1="114.2" x2="1538.1" y2="114.2" stroke="#000" stroke-width="2.5"/>
<text transform="translate(1524 120.8) scale(1 1.045)" font-size="18.5" text-anchor="end">100</text>
<line x1="1559.6" y1="359.5" x2="1559.6" y2="370.4" stroke="#000" stroke-width="2.5"/>
<text transform="translate(1560.1 390.8) scale(1 1.045)" font-size="18.5" text-anchor="middle">10</text>
<line x1="1650.1" y1="359.5" x2="1650.1" y2="370.4" stroke="#000" stroke-width="2.5"/>
<text transform="translate(1650.6 390.8) scale(1 1.045)" font-size="18.5" text-anchor="middle">12</text>
<line x1="1740.6" y1="359.5" x2="1740.6" y2="370.4" stroke="#000" stroke-width="2.5"/>
<text transform="translate(1741.1 390.8) scale(1 1.045)" font-size="18.5" text-anchor="middle">14</text>
<path d="M1536.97 358.76 L1537.54 358.76 L1538.11 358.76 L1538.68 358.76 L1539.24 358.76 L1539.81 358.76 L1540.38 358.75 L1540.94 358.75 L1541.51 358.75 L1542.08 358.75 L1542.65 358.74 L1543.21 358.74 L1543.78 358.74 L1544.35 358.73 L1544.91 358.73 L1545.48 358.72 L1546.05 358.72 L1546.61 358.71 L1547.18 358.71 L1547.75 358.7 L1548.32 358.69 L1548.88 358.69 L1549.45 358.68 L1550.02 358.67 L1550.58 358.66 L1551.15 358.66 L1551.72 358.65 L1552.29 358.64 L1552.85 358.63 L1553.42 358.62 L1553.99 358.61 L1554.55 358.6 L1555.12 358.59 L1555.69 358.58 L1556.25 358.57 L1556.82 358.56 L1557.39 358.55 L1557.96 358.54 L1558.52 358.53 L1559.09 358.51 L1559.66 358.5 L1560.22 358.49 L1560.79 358.48 L1561.36 358.46 L1561.92 358.45 L1562.49 358.44 L1563.06 358.42 L1563.63 358.41 L1564.19 358.39 L1564.76 358.38 L1565.33 358.36 L1565.89 358.35 L1566.46 358.33 L1567.03 358.31 L1567.6 358.29 L1568.16 358.27 L1568.73 358.25 L1569.3 358.23 L1569.86 358.2 L1570.43 358.18 L1571 358.15 L1571.56 358.12 L1572.13 358.08 L1572.7 358.04 L1573.27 358 L1573.83 357.96 L1574.4 357.91 L1574.97 357.86 L1575.53 357.81 L1576.1 357.76 L1576.67 357.7 L1577.24 357.64 L1577.8 357.58 L1578.37 357.51 L1578.94 357.45 L1579.5 357.38 L1580.07 357.3 L1580.64 357.23 L1581.2 357.15 L1581.77 357.07 L1582.34 356.99 L1582.91 356.91 L1583.47 356.82 L1584.04 356.73 L1584.61 356.64 L1585.17 356.54 L1585.74 356.44 L1586.31 356.33 L1586.87 356.22 L1587.44 356.1 L1588.01 355.98 L1588.58 355.84 L1589.14 355.7 L1589.71 355.54 L1590.28 355.38 L1590.84 355.21 L1591.41 355.03 L1591.98 354.83 L1592.55 354.63 L1593.11 354.41 L1593.68 354.18 L1594.25 353.94 L1594.81 353.68 L1595.38 353.41 L1595.95 353.13 L1596.51 352.82 L1597.08 352.5 L1597.65 352.15 L1598.22 351.78 L1598.78 351.39 L1599.35 350.96 L1599.92 350.5 L1600.48 350.01 L1601.05 349.47 L1601.62 348.89 L1602.18 348.24 L1602.75 347.54 L1603.32 346.76 L1603.89 345.9 L1604.45 344.95 L1605.02 343.91 L1605.59 342.74 L1606.15 341.42 L1606.72 339.96 L1607.29 338.34 L1607.86 336.58 L1608.42 334.67 L1608.99 332.61 L1609.56 330.4 L1610.12 328.04 L1610.69 325.52 L1611.26 322.85 L1611.82 320.01 L1612.39 317.02 L1612.96 313.86 L1613.53 310.52 L1614.09 307 L1614.66 303.23 L1615.23 299.2 L1615.79 294.87 L1616.36 290.23 L1616.93 285.27 L1617.5 279.95 L1618.06 274.26 L1618.63 268.21 L1619.2 261.78 L1619.76 255 L1620.33 247.88 L1620.9 240.43 L1621.46 232.46 L1622.03 224.04 L1622.6 215.34 L1623.17 206.49 L1623.73 197.66 L1624.3 189.01 L1624.87 180.7 L1625.43 172.86 L1626 165.35 L1626.57 158.19 L1627.13 151.45 L1627.7 145.21 L1628.27 139.53 L1628.84 134.47 L1629.4 130.06 L1629.97 126.19 L1630.54 122.81 L1631.1 119.98 L1631.67 117.74 L1632.24 116.12 L1632.81 115.16 L1633.37 114.85 L1633.94 115.11 L1634.51 115.88 L1635.07 117.1 L1635.64 118.69 L1636.21 120.61 L1636.77 122.79 L1637.34 125.3 L1637.91 128.11 L1638.48 131.16 L1639.04 134.4 L1639.61 137.8 L1640.18 141.31 L1640.74 144.92 L1641.31 148.66 L1641.88 152.5 L1642.44 156.41 L1643.01 160.37 L1643.58 164.37 L1644.15 168.37 L1644.71 172.36 L1645.28 176.31 L1645.85 180.2 L1646.41 184.02 L1646.98 187.74 L1647.55 191.35 L1648.12 194.84 L1648.68 198.19 L1649.25 201.4 L1649.82 204.49 L1650.38 207.48 L1650.95 210.37 L1651.52 213.17 L1652.08 215.87 L1652.65 218.48 L1653.22 220.99 L1653.79 223.42 L1654.35 225.75 L1654.92 228 L1655.49 230.17 L1656.05 232.25 L1656.62 234.24 L1657.19 236.15 L1657.76 237.97 L1658.32 239.72 L1658.89 241.37 L1659.46 242.95 L1660.02 244.47 L1660.59 245.94 L1661.16 247.35 L1661.72 248.69 L1662.29 249.97 L1662.86 251.16 L1663.43 252.26 L1663.99 253.27 L1664.56 254.18 L1665.13 254.98 L1665.69 255.66 L1666.26 256.21 L1666.83 256.64 L1667.39 256.93 L1667.96 257.08 L1668.53 257.13 L1669.1 257.06 L1669.66 256.9 L1670.23 256.64 L1670.8 256.3 L1671.36 255.88 L1671.93 255.39 L1672.5 254.85 L1673.07 254.25 L1673.63 253.6 L1674.2 252.92 L1674.77 252.19 L1675.33 251.42 L1675.9 250.62 L1676.47 249.79 L1677.03 248.92 L1677.6 248.02 L1678.17 247.05 L1678.74 246.03 L1679.3 244.95 L1679.87 243.83 L1680.44 242.66 L1681 241.47 L1681.57 240.25 L1682.14 239.02 L1682.7 237.79 L1683.27 236.57 L1683.84 235.39 L1684.41 234.24 L1684.97 233.14 L1685.54 232.1 L1686.11 231.13 L1686.67 230.24 L1687.24 229.43 L1687.81 228.7 L1688.38 228.07 L1688.94 227.52 L1689.51 227.03 L1690.08 226.59 L1690.64 226.19 L1691.21 225.84 L1691.78 225.52 L1692.34 225.23 L1692.91 224.97 L1693.48 224.73 L1694.05 224.5 L1694.61 224.29 L1695.18 224.09 L1695.75 223.89 L1696.31 223.71 L1696.88 223.52 L1697.45 223.35 L1698.02 223.17 L1698.58 222.99 L1699.15 222.82 L1699.72 222.65 L1700.28 222.48 L1700.85 222.3 L1701.42 222.13 L1701.98 221.96 L1702.55 221.79 L1703.12 221.63 L1703.69 221.48 L1704.25 221.33 L1704.82 221.2 L1705.39 221.07 L1705.95 220.97 L1706.52 220.89 L1707.09 220.83 L1707.65 220.79 L1708.22 220.78 L1708.79 220.8 L1709.36 220.84 L1709.92 220.93 L1710.49 221.05 L1711.06 221.2 L1711.62 221.37 L1712.19 221.57 L1712.76 221.79 L1713.33 222.01 L1713.89 222.24 L1714.46 222.45 L1715.03 222.65 L1715.59 222.81 L1716.16 222.92 L1716.73 222.97 L1717.29 222.95 L1717.86 222.83 L1718.43 222.62 L1719 222.28 L1719.56 221.76 L1720.13 221.04 L1720.7 220.1 L1721.26 218.93 L1721.83 217.54 L1722.4 215.91 L1722.96 214.04 L1723.53 211.93 L1724.1 209.6 L1724.67 207.02 L1725.23 204.07 L1725.8 200.8 L1726.37 197.25 L1726.93 193.47 L1727.5 189.53 L1728.07 185.49 L1728.64 181.41 L1729.2 177.35 L1729.77 173.39 L1730.34 169.6 L1730.9 166.03 L1731.47 162.59 L1732.04 159.33 L1732.6 156.31 L1733.17 153.59 L1733.74 151.23 L1734.31 149.29 L1734.87 147.79 L1735.44 146.8 L1736.01 146.34 L1736.57 146.42 L1737.14 147.01 L1737.71 148.08 L1738.28 149.6 L1738.84 151.55 L1739.41 153.88 L1739.98 156.56 L1740.54 159.54 L1741.11 162.78 L1741.68 166.24 L1742.24 169.89 L1742.81 173.81 L1743.38 177.97 L1743.95 182.33 L1744.51 186.86 L1745.08 191.5 L1745.65 196.21 L1746.21 200.96 L1746.78 205.69 L1747.35 210.37 L1747.91 214.96 L1748.48 219.41 L1749.05 223.69 L1749.62 227.76 L1750.18 231.64 L1750.75 235.37 L1751.32 238.93 L1751.88 242.33 L1752.45 245.54 L1753.02 248.57 L1753.59 251.42 L1754.15 254.07 L1754.72 256.52 L1755.29 258.77 L1755.85 260.82 L1756.42 262.72 L1756.99 264.47 L1757.55 266.06 L1758.12 267.47 L1758.69 268.7 L1759.26 269.73 L1759.82 270.57 L1760.39 271.2 L1760.96 271.66 L1761.52 272.02 L1762.09 272.28 L1762.66 272.45 L1763.22 272.54" fill="none" stroke="#7C1135" stroke-width="3" stroke-linejoin="round"  stroke-linecap="round"/>
<path d="M1536.97 358.76 L1537.54 358.76 L1538.11 358.76 L1538.68 358.76 L1539.24 358.76 L1539.81 358.76 L1540.38 358.76 L1540.94 358.76 L1541.51 358.76 L1542.08 358.76 L1542.65 358.76 L1543.21 358.76 L1543.78 358.76 L1544.35 358.76 L1544.91 358.76 L1545.48 358.75 L1546.05 358.75 L1546.61 358.75 L1547.18 358.75 L1547.75 358.75 L1548.32 358.75 L1548.88 358.75 L1549.45 358.74 L1550.02 358.74 L1550.58 358.74 L1551.15 358.74 L1551.72 358.74 L1552.29 358.73 L1552.85 358.73 L1553.42 358.73 L1553.99 358.73 L1554.55 358.72 L1555.12 358.72 L1555.69 358.72 L1556.25 358.71 L1556.82 358.71 L1557.39 358.71 L1557.96 358.71 L1558.52 358.7 L1559.09 358.7 L1559.66 358.69 L1560.22 358.69 L1560.79 358.69 L1561.36 358.68 L1561.92 358.68 L1562.49 358.68 L1563.06 358.67 L1563.63 358.67 L1564.19 358.66 L1564.76 358.66 L1565.33 358.65 L1565.89 358.65 L1566.46 358.64 L1567.03 358.64 L1567.6 358.63 L1568.16 358.63 L1568.73 358.62 L1569.3 358.62 L1569.86 358.61 L1570.43 358.6 L1571 358.6 L1571.56 358.59 L1572.13 358.59 L1572.7 358.58 L1573.27 358.57 L1573.83 358.57 L1574.4 358.56 L1574.97 358.55 L1575.53 358.54 L1576.1 358.53 L1576.67 358.52 L1577.24 358.5 L1577.8 358.49 L1578.37 358.47 L1578.94 358.45 L1579.5 358.43 L1580.07 358.4 L1580.64 358.37 L1581.2 358.33 L1581.77 358.29 L1582.34 358.25 L1582.91 358.2 L1583.47 358.15 L1584.04 358.1 L1584.61 358.04 L1585.17 357.98 L1585.74 357.92 L1586.31 357.86 L1586.87 357.79 L1587.44 357.72 L1588.01 357.64 L1588.58 357.56 L1589.14 357.48 L1589.71 357.4 L1590.28 357.31 L1590.84 357.21 L1591.41 357.11 L1591.98 357.01 L1592.55 356.89 L1593.11 356.77 L1593.68 356.65 L1594.25 356.51 L1594.81 356.37 L1595.38 356.22 L1595.95 356.06 L1596.51 355.89 L1597.08 355.71 L1597.65 355.52 L1598.22 355.31 L1598.78 355.1 L1599.35 354.87 L1599.92 354.63 L1600.48 354.36 L1601.05 354.08 L1601.62 353.77 L1602.18 353.42 L1602.75 353.04 L1603.32 352.61 L1603.89 352.12 L1604.45 351.58 L1605.02 350.96 L1605.59 350.24 L1606.15 349.41 L1606.72 348.46 L1607.29 347.39 L1607.86 346.2 L1608.42 344.89 L1608.99 343.45 L1609.56 341.88 L1610.12 340.19 L1610.69 338.36 L1611.26 336.4 L1611.82 334.3 L1612.39 332.06 L1612.96 329.67 L1613.53 327.14 L1614.09 324.46 L1614.66 321.56 L1615.23 318.44 L1615.79 315.11 L1616.36 311.58 L1616.93 307.88 L1617.5 304.03 L1618.06 300.05 L1618.63 295.96 L1619.2 291.8 L1619.76 287.6 L1620.33 283.38 L1620.9 279.18 L1621.46 274.94 L1622.03 270.69 L1622.6 266.45 L1623.17 262.28 L1623.73 258.22 L1624.3 254.29 L1624.87 250.54 L1625.43 246.99 L1626 243.69 L1626.57 240.66 L1627.13 237.92 L1627.7 235.42 L1628.27 233.1 L1628.84 231 L1629.4 229.12 L1629.97 227.46 L1630.54 226.04 L1631.1 224.87 L1631.67 223.94 L1632.24 223.26 L1632.81 222.84 L1633.37 222.69 L1633.94 222.79 L1634.51 223.15 L1635.07 223.74 L1635.64 224.55 L1636.21 225.56 L1636.77 226.74 L1637.34 228.08 L1637.91 229.56 L1638.48 231.16 L1639.04 232.86 L1639.61 234.63 L1640.18 236.46 L1640.74 238.38 L1641.31 240.39 L1641.88 242.48 L1642.44 244.64 L1643.01 246.85 L1643.58 249.11 L1644.15 251.38 L1644.71 253.66 L1645.28 255.94 L1645.85 258.19 L1646.41 260.4 L1646.98 262.55 L1647.55 264.64 L1648.12 266.64 L1648.68 268.55 L1649.25 270.37 L1649.82 272.1 L1650.38 273.76 L1650.95 275.36 L1651.52 276.9 L1652.08 278.37 L1652.65 279.79 L1653.22 281.15 L1653.79 282.45 L1654.35 283.69 L1654.92 284.88 L1655.49 286.02 L1656.05 287.11 L1656.62 288.14 L1657.19 289.12 L1657.76 290.06 L1658.32 290.94 L1658.89 291.77 L1659.46 292.56 L1660.02 293.32 L1660.59 294.05 L1661.16 294.76 L1661.72 295.43 L1662.29 296.09 L1662.86 296.72 L1663.43 297.32 L1663.99 297.9 L1664.56 298.44 L1665.13 298.96 L1665.69 299.45 L1666.26 299.91 L1666.83 300.33 L1667.39 300.71 L1667.96 301.05 L1668.53 301.35 L1669.1 301.61 L1669.66 301.82 L1670.23 302 L1670.8 302.14 L1671.36 302.23 L1671.93 302.29 L1672.5 302.33 L1673.07 302.34 L1673.63 302.33 L1674.2 302.3 L1674.77 302.26 L1675.33 302.2 L1675.9 302.13 L1676.47 302.05 L1677.03 301.97 L1677.6 301.87 L1678.17 301.77 L1678.74 301.66 L1679.3 301.55 L1679.87 301.43 L1680.44 301.31 L1681 301.19 L1681.57 301.06 L1682.14 300.92 L1682.7 300.78 L1683.27 300.64 L1683.84 300.49 L1684.41 300.34 L1684.97 300.17 L1685.54 300 L1686.11 299.82 L1686.67 299.64 L1687.24 299.44 L1687.81 299.24 L1688.38 299.03 L1688.94 298.81 L1689.51 298.59 L1690.08 298.37 L1690.64 298.14 L1691.21 297.91 L1691.78 297.68 L1692.34 297.45 L1692.91 297.22 L1693.48 296.99 L1694.05 296.75 L1694.61 296.52 L1695.18 296.3 L1695.75 296.07 L1696.31 295.84 L1696.88 295.62 L1697.45 295.39 L1698.02 295.17 L1698.58 294.94 L1699.15 294.71 L1699.72 294.49 L1700.28 294.26 L1700.85 294.03 L1701.42 293.81 L1701.98 293.58 L1702.55 293.35 L1703.12 293.13 L1703.69 292.9 L1704.25 292.67 L1704.82 292.45 L1705.39 292.23 L1705.95 292 L1706.52 291.79 L1707.09 291.57 L1707.65 291.35 L1708.22 291.14 L1708.79 290.93 L1709.36 290.73 L1709.92 290.53 L1710.49 290.33 L1711.06 290.13 L1711.62 289.92 L1712.19 289.69 L1712.76 289.45 L1713.33 289.17 L1713.89 288.85 L1714.46 288.49 L1715.03 288.06 L1715.59 287.56 L1716.16 286.99 L1716.73 286.33 L1717.29 285.55 L1717.86 284.62 L1718.43 283.57 L1719 282.38 L1719.56 281.09 L1720.13 279.69 L1720.7 278.2 L1721.26 276.64 L1721.83 275.01 L1722.4 273.34 L1722.96 271.62 L1723.53 269.81 L1724.1 267.94 L1724.67 266.02 L1725.23 264.07 L1725.8 262.12 L1726.37 260.18 L1726.93 258.28 L1727.5 256.45 L1728.07 254.72 L1728.64 253.1 L1729.2 251.63 L1729.77 250.34 L1730.34 249.24 L1730.9 248.36 L1731.47 247.71 L1732.04 247.31 L1732.6 247.17 L1733.17 247.28 L1733.74 247.63 L1734.31 248.21 L1734.87 249.01 L1735.44 249.99 L1736.01 251.16 L1736.57 252.49 L1737.14 253.96 L1737.71 255.55 L1738.28 257.25 L1738.84 259.04 L1739.41 260.94 L1739.98 262.97 L1740.54 265.11 L1741.11 267.34 L1741.68 269.62 L1742.24 271.95 L1742.81 274.29 L1743.38 276.63 L1743.95 278.94 L1744.51 281.2 L1745.08 283.39 L1745.65 285.49 L1746.21 287.48 L1746.78 289.35 L1747.35 291.15 L1747.91 292.86 L1748.48 294.49 L1749.05 296.03 L1749.62 297.48 L1750.18 298.85 L1750.75 300.12 L1751.32 301.31 L1751.88 302.41 L1752.45 303.41 L1753.02 304.33 L1753.59 305.14 L1754.15 305.86 L1754.72 306.48 L1755.29 307.02 L1755.85 307.47 L1756.42 307.82 L1756.99 308.08 L1757.55 308.23 L1758.12 308.28 L1758.69 308.22 L1759.26 308.06 L1759.82 307.79 L1760.39 307.42 L1760.96 306.98 L1761.52 306.47 L1762.09 305.91 L1762.66 305.32 L1763.22 304.72" fill="none" stroke="#2F9BE9" stroke-width="3" stroke-linejoin="round"  stroke-linecap="round"/>
<path d="M1591.27 358.74 L1591.71 358.72 L1592.14 358.71 L1592.57 358.69 L1593 358.67 L1593.43 358.64 L1593.86 358.61 L1594.29 358.57 L1594.72 358.53 L1595.15 358.49 L1595.58 358.44 L1596.02 358.38 L1596.45 358.32 L1596.88 358.26 L1597.31 358.19 L1597.74 358.11 L1598.17 358.03 L1598.6 357.95 L1599.03 357.86 L1599.46 357.77 L1599.89 357.67 L1600.32 357.57 L1600.76 357.46 L1601.19 357.35 L1601.62 357.24 L1602.05 357.11 L1602.48 356.98 L1602.91 356.84 L1603.34 356.69 L1603.77 356.52 L1604.2 356.34 L1604.63 356.14 L1605.07 355.93 L1605.5 355.68 L1605.93 355.4 L1606.36 355.09 L1606.79 354.74 L1607.22 354.36 L1607.65 353.95 L1608.08 353.51 L1608.51 353.03 L1608.94 352.53 L1609.38 352 L1609.81 351.45 L1610.24 350.87 L1610.67 350.28 L1611.1 349.66 L1611.53 349.02 L1611.96 348.37 L1612.39 347.7 L1612.82 347.01 L1613.25 346.3 L1613.68 345.58 L1614.12 344.83 L1614.55 344.05 L1614.98 343.23 L1615.41 342.38 L1615.84 341.5 L1616.27 340.6 L1616.7 339.67 L1617.13 338.72 L1617.56 337.76 L1617.99 336.8 L1618.42 335.83 L1618.86 334.88 L1619.29 333.94 L1619.72 333.02 L1620.15 332.13 L1620.58 331.27 L1621.01 330.45 L1621.44 329.67 L1621.87 328.93 L1622.3 328.24 L1622.73 327.6 L1623.17 327 L1623.6 326.43 L1624.03 325.88 L1624.46 325.36 L1624.89 324.86 L1625.32 324.37 L1625.75 323.91 L1626.18 323.46 L1626.61 323.02 L1627.04 322.6 L1627.47 322.19 L1627.91 321.79 L1628.34 321.41 L1628.77 321.04 L1629.2 320.69 L1629.63 320.36 L1630.06 320.04 L1630.49 319.75 L1630.92 319.48 L1631.35 319.22 L1631.78 319 L1632.22 318.79 L1632.65 318.61 L1633.08 318.46 L1633.51 318.34 L1633.94 318.24 L1634.37 318.18 L1634.8 318.14 L1635.23 318.13 L1635.66 318.16 L1636.09 318.21 L1636.52 318.3 L1636.96 318.41 L1637.39 318.55 L1637.82 318.71 L1638.25 318.9 L1638.68 319.11 L1639.11 319.34 L1639.54 319.59 L1639.97 319.85 L1640.4 320.12 L1640.83 320.41 L1641.27 320.7 L1641.7 321 L1642.13 321.3 L1642.56 321.6 L1642.99 321.9 L1643.42 322.2 L1643.85 322.5 L1644.28 322.8 L1644.71 323.09 L1645.14 323.37 L1645.57 323.65 L1646.01 323.93 L1646.44 324.2 L1646.87 324.48 L1647.3 324.76 L1647.73 325.04 L1648.16 325.32 L1648.59 325.6 L1649.02 325.89 L1649.45 326.17 L1649.88 326.46 L1650.32 326.74 L1650.75 327.03 L1651.18 327.31 L1651.61 327.59 L1652.04 327.87 L1652.47 328.14 L1652.9 328.42 L1653.33 328.68 L1653.76 328.94 L1654.19 329.2 L1654.62 329.44 L1655.06 329.68 L1655.49 329.91 L1655.92 330.13 L1656.35 330.34 L1656.78 330.54 L1657.21 330.73 L1657.64 330.91 L1658.07 331.08 L1658.5 331.23 L1658.93 331.38 L1659.37 331.52 L1659.8 331.66 L1660.23 331.79 L1660.66 331.91 L1661.09 332.03 L1661.52 332.15 L1661.95 332.26 L1662.38 332.37 L1662.81 332.48 L1663.24 332.58 L1663.67 332.68 L1664.11 332.77 L1664.54 332.87 L1664.97 332.96 L1665.4 333.04 L1665.83 333.12 L1666.26 333.2 L1666.69 333.27 L1667.12 333.34 L1667.55 333.4 L1667.98 333.45 L1668.42 333.5 L1668.85 333.54 L1669.28 333.58 L1669.71 333.61 L1670.14 333.63 L1670.57 333.64 L1671 333.65 L1671.43 333.64 L1671.86 333.63 L1672.29 333.61 L1672.72 333.57 L1673.16 333.53 L1673.59 333.48 L1674.02 333.42 L1674.45 333.35 L1674.88 333.27 L1675.31 333.19 L1675.74 333.09 L1676.17 332.99 L1676.6 332.89 L1677.03 332.78 L1677.47 332.66 L1677.9 332.54 L1678.33 332.41 L1678.76 332.29 L1679.19 332.16 L1679.62 332.02 L1680.05 331.89 L1680.48 331.76 L1680.91 331.62 L1681.34 331.49 L1681.77 331.36 L1682.21 331.23 L1682.64 331.09 L1683.07 330.96 L1683.5 330.83 L1683.93 330.71 L1684.36 330.58 L1684.79 330.45 L1685.22 330.32 L1685.65 330.19 L1686.08 330.06 L1686.52 329.92 L1686.95 329.79 L1687.38 329.66 L1687.81 329.52 L1688.24 329.38 L1688.67 329.24 L1689.1 329.1 L1689.53 328.96 L1689.96 328.81 L1690.39 328.67 L1690.82 328.52 L1691.26 328.37 L1691.69 328.22 L1692.12 328.06 L1692.55 327.91 L1692.98 327.75 L1693.41 327.59 L1693.84 327.43 L1694.27 327.27 L1694.7 327.1 L1695.13 326.94 L1695.57 326.77 L1696 326.6 L1696.43 326.42 L1696.86 326.25 L1697.29 326.07 L1697.72 325.89 L1698.15 325.71 L1698.58 325.52 L1699.01 325.34 L1699.44 325.15 L1699.88 324.96 L1700.31 324.76 L1700.74 324.57 L1701.17 324.37 L1701.6 324.17 L1702.03 323.97 L1702.46 323.76 L1702.89 323.56 L1703.32 323.35 L1703.75 323.14 L1704.18 322.93 L1704.62 322.71 L1705.05 322.5 L1705.48 322.28 L1705.91 322.06 L1706.34 321.84 L1706.77 321.62 L1707.2 321.4 L1707.63 321.18 L1708.06 320.96 L1708.49 320.74 L1708.92 320.52 L1709.36 320.3 L1709.79 320.08 L1710.22 319.86 L1710.65 319.64 L1711.08 319.42 L1711.51 319.19 L1711.94 318.96 L1712.37 318.72 L1712.8 318.47 L1713.23 318.2 L1713.67 317.91 L1714.1 317.6 L1714.53 317.26 L1714.96 316.88 L1715.39 316.46 L1715.82 316 L1716.25 315.48 L1716.68 314.91 L1717.11 314.27 L1717.54 313.55 L1717.97 312.75 L1718.41 311.89 L1718.84 310.96 L1719.27 309.98 L1719.7 308.96 L1720.13 307.91 L1720.56 306.84 L1720.99 305.76 L1721.42 304.67 L1721.85 303.59 L1722.28 302.53 L1722.72 301.5 L1723.15 300.46 L1723.58 299.43 L1724.01 298.4 L1724.44 297.39 L1724.87 296.41 L1725.3 295.46 L1725.73 294.55 L1726.16 293.69 L1726.59 292.89 L1727.02 292.17 L1727.46 291.53 L1727.89 290.99 L1728.32 290.55 L1728.75 290.23 L1729.18 290.03 L1729.61 289.96 L1730.04 290.03 L1730.47 290.23 L1730.9 290.57 L1731.33 291.03 L1731.77 291.61 L1732.2 292.28 L1732.63 293.03 L1733.06 293.85 L1733.49 294.73 L1733.92 295.65 L1734.35 296.6 L1734.78 297.55 L1735.21 298.51 L1735.64 299.46 L1736.07 300.39 L1736.51 301.31 L1736.94 302.22 L1737.37 303.13 L1737.8 304.04 L1738.23 304.93 L1738.66 305.83 L1739.09 306.71 L1739.52 307.59 L1739.95 308.47 L1740.38 309.34 L1740.82 310.21 L1741.25 311.07 L1741.68 311.91 L1742.11 312.75 L1742.54 313.58 L1742.97 314.39 L1743.4 315.19 L1743.83 315.97 L1744.26 316.73 L1744.69 317.48 L1745.12 318.21 L1745.56 318.93 L1745.99 319.63 L1746.42 320.31 L1746.85 320.97 L1747.28 321.64 L1747.71 322.29 L1748.14 322.94 L1748.57 323.57 L1749 324.18 L1749.43 324.78 L1749.87 325.34 L1750.3 325.88 L1750.73 326.39 L1751.16 326.86 L1751.59 327.28 L1752.02 327.66 L1752.45 327.98 L1752.88 328.26 L1753.31 328.47 L1753.74 328.62 L1754.17 328.72 L1754.61 328.75 L1755.04 328.73 L1755.47 328.66 L1755.9 328.53 L1756.33 328.36 L1756.76 328.13 L1757.19 327.85 L1757.62 327.52 L1758.05 327.12 L1758.48 326.65 L1758.92 326.13 L1759.35 325.54 L1759.78 324.91 L1760.21 324.23 L1760.64 323.53 L1761.07 322.81 L1761.5 322.08 L1761.93 321.36 L1762.36 320.65 L1762.79 319.96 L1763.22 319.31" fill="none" stroke="#FF9A1C" stroke-width="3" stroke-linejoin="round"  stroke-linecap="round"/>
<text transform="translate(1483.5 239.5) rotate(-90) scale(1 1.012)" font-size="27.9" text-anchor="middle">Normalized FI signal</text>
<text transform="translate(1652 425.8) scale(1 1.015)" font-size="28.2" text-anchor="middle">Volume (mL)</text>
<text transform="translate(1564.6 77.8) scale(1 1.005)" font-size="28.1">dimer</text>
<text transform="translate(1678.6 116.4) scale(1 1.005)" font-size="28.1">monomer</text>
<line x1="1811" y1="152.8" x2="1847.8" y2="152.8" stroke="#7C1135" stroke-width="3"/>
<g transform="translate(1855.3 161.8)" fill="#B1133E"><text transform="translate(0 0) scale(1.000 1.045)" font-size="28">PI(3,5)P</text><text transform="translate(103.3 6.5) scale(1.000 1.045)" font-size="19">2</text></g>
<line x1="1811" y1="201" x2="1847.8" y2="201" stroke="#2F9BE9" stroke-width="3"/>
<g transform="translate(1855.3 208.5)" fill="#2F8FCC"><text transform="translate(0 0) scale(1.000 1.045)" font-size="28">PI(4,5)P</text><text transform="translate(103.3 6.5) scale(1.000 1.045)" font-size="19">2</text></g>
<line x1="1811" y1="249.3" x2="1847.8" y2="249.3" stroke="#FF9A1C" stroke-width="3"/>
<g transform="translate(1855.3 257.4)" fill="#FF9A1C"><text transform="translate(0 0) scale(1.000 1.045)" font-size="28">POPC</text></g>
</g>
<g id="panel-c">
<text transform="translate(4.5 867.1) scale(1 1.005)" font-size="25" font-weight="bold">c</text>
<text transform="translate(492.9 931.9) scale(1 1.010)" font-size="27.6" text-anchor="middle" font-weight="bold">Biotin Fractions</text>
<text transform="translate(302.4 982.5) scale(1 1.045)" font-size="27.6" text-anchor="middle">EV</text>
<line x1="248" y1="988" x2="358" y2="988" stroke="#000" stroke-width="4"/>
<text transform="translate(485.6 979.7) scale(1 1.045)" font-size="27.6" text-anchor="middle">NHE1</text>
<line x1="424.7" y1="988.9" x2="534.6" y2="988.9" stroke="#000" stroke-width="4"/>
<text transform="translate(677.5 977.7) scale(1 1.045)" font-size="27.6" text-anchor="middle">NHE9</text>
<line x1="605.2" y1="988.3" x2="715.8" y2="988.3" stroke="#000" stroke-width="4"/>
<text transform="translate(210.9 1053.4) scale(1 1.025)" font-size="27.6" text-anchor="end">anti-FLAG</text>
<text transform="translate(208 1156.8) scale(1 1.018)" font-size="27.6" text-anchor="end">anti-HA</text>
<text transform="translate(209.5 1301.8) scale(1 1.018)" font-size="27.6" text-anchor="end">avidin-HRP</text>
<text transform="translate(211.4 1463.3) scale(1 1.009)" font-size="27.6" text-anchor="end">anti-Tubulin</text>
<text transform="translate(743.5 1039.2) scale(1 1.032)" font-size="27.6">(KDa)</text>
<line x1="743.5" y1="1072" x2="752.9" y2="1072" stroke="#000" stroke-width="2.8"/>
<text transform="translate(759.1 1084.5) scale(1 1.045)" font-size="27.6">100</text>
<line x1="743.5" y1="1115" x2="752.9" y2="1115" stroke="#000" stroke-width="2.8"/>
<text transform="translate(759.1 1125.1) scale(1 1.045)" font-size="27.6">250</text>
<line x1="743.5" y1="1200.5" x2="752.9" y2="1200.5" stroke="#000" stroke-width="2.8"/>
<text transform="translate(759.1 1210.8) scale(1 1.045)" font-size="27.6">250</text>
<line x1="743.5" y1="1381.6" x2="752.9" y2="1381.6" stroke="#000" stroke-width="2.8"/>
<text transform="translate(759.7 1391.7) scale(1 1.045)" font-size="27.6">75</text>
<line x1="740" y1="1456.1" x2="749.2" y2="1456.1" stroke="#000" stroke-width="2.8"/>
<text transform="translate(759.1 1466.7) scale(1 1.045)" font-size="27.6">50</text>
<clipPath id="bc1"><rect x="221" y="1003.3" width="515.6" height="81.4"/></clipPath>
<g clip-path="url(#bc1)">
<rect x="221" y="1003.3" width="515.6" height="81.4" fill="#c2c2c2"/>
<g filter="url(#b4)">
<rect x="415.7" y="996" width="27" height="55" rx="5" fill="url(#gsm1)" opacity="0.92"/>
<rect x="414.2" y="1066" width="30" height="24" rx="3" fill="#737373" opacity="0.41"/>
<rect x="460.4" y="996" width="27" height="50" rx="5" fill="url(#gsm1)" opacity="1"/>
<rect x="458.9" y="1066" width="30" height="24" rx="3" fill="#737373" opacity="0.45"/>
<rect x="505.8" y="996" width="27" height="56" rx="5" fill="url(#gsm1)" opacity="0.9"/>
<rect x="504.3" y="1066" width="30" height="24" rx="3" fill="#737373" opacity="0.41"/>
</g>
<g filter="url(#b3)">
<rect x="449.1" y="1000" width="5" height="40" rx="2.5" fill="#d7d7d7" opacity="0.5"/>
<rect x="494.1" y="1000" width="5" height="40" rx="2.5" fill="#d7d7d7" opacity="0.5"/>
<ellipse cx="384" cy="1064" rx="9" ry="16" fill="#ebebeb" opacity="0.28"/>
</g>
<g filter="url(#b3)">
<rect x="412.6" y="1044" width="33.2" height="24.5" rx="10" fill="#282828" opacity="0.89"/>
<rect x="415.2" y="1050" width="28" height="13.5" rx="7" fill="#1e1e1e" opacity="0.8"/>
<rect x="457.3" y="1039" width="33.2" height="31" rx="10" fill="#282828" opacity="0.97"/>
<rect x="459.9" y="1045" width="28" height="20" rx="7" fill="#1e1e1e" opacity="0.8"/>
<rect x="502.7" y="1045" width="33.2" height="26" rx="10" fill="#282828" opacity="0.87"/>
<rect x="505.3" y="1051" width="28" height="15" rx="7" fill="#1e1e1e" opacity="0.8"/>
<ellipse cx="519.5" cy="1083" rx="9" ry="3" fill="#464646" opacity="0.6"/>
</g>
<g filter="url(#b2)">
<ellipse cx="247.5" cy="1078" rx="11" ry="5" fill="#787878" opacity="0.36"/>
<ellipse cx="295" cy="1080" rx="14" ry="4" fill="#787878" opacity="0.34"/>
<ellipse cx="375.5" cy="1081" rx="5.5" ry="4" fill="#464646" opacity="0.65"/>
<ellipse cx="548" cy="1022" rx="14" ry="26" fill="#8c8c8c" opacity="0.16"/>
<ellipse cx="689" cy="1034" rx="4" ry="6" fill="#787878" opacity="0.3"/>
<ellipse cx="652" cy="1074" rx="9" ry="8" fill="#8c8c8c" opacity="0.22"/>
<ellipse cx="596" cy="1076" rx="8" ry="8" fill="#8c8c8c" opacity="0.12"/>
<rect x="221" y="1003" width="516" height="8" rx="0" fill="#969696" opacity="0.1"/>
<rect x="221" y="1078" width="516" height="8" rx="0" fill="#a0a0a0" opacity="0.1"/>
</g>
<rect x="221" y="1003.3" width="515.6" height="81.4" filter="url(#grain)" opacity="0.14"/>
</g>
<clipPath id="bc2"><rect x="221" y="1098.6" width="516.5" height="82"/></clipPath>
<g clip-path="url(#bc2)">
<rect x="221" y="1098.6" width="516.5" height="82" fill="#c6c6c6"/>
<g filter="url(#b4)">
<polygon points="589,1113 597,1110 609.8,1132 618.5,1122.5 626.5,1125.5 626.5,1158.5 618.5,1161.5 609.8,1150 597,1159.5 589,1156.5" fill="#1a1a1a" opacity="1"/>
<polygon points="641,1124 649,1121 659.8,1134 669.5,1123.5 677.5,1126.5 677.5,1163 669.5,1166 659.8,1152 649,1160.5 641,1157.5" fill="#1a1a1a" opacity="1"/>
<polygon points="690.5,1125 698.5,1122 710.8,1136 723.5,1122 731.5,1125 731.5,1160 723.5,1163 710.8,1148 698.5,1156.5 690.5,1153.5" fill="#1a1a1a" opacity="1"/>
</g>
<g filter="url(#b4)">
<ellipse cx="609.8" cy="1141" rx="6" ry="9" fill="#bebebe" opacity="0.16"/>
<ellipse cx="659.8" cy="1143" rx="6" ry="9" fill="#bebebe" opacity="0.12"/>
<ellipse cx="710.8" cy="1142" rx="6" ry="9" fill="#bebebe" opacity="0.5"/>
</g>
<g filter="url(#b1)">
<ellipse cx="630.5" cy="1169" rx="1.3" ry="1.3" fill="#3c3c3c" opacity="0.7"/>
<ellipse cx="424" cy="1109" rx="2.5" ry="1.5" fill="#969696" opacity="0.4"/>
</g>
<rect x="221" y="1098.6" width="516.5" height="82" filter="url(#grain)" opacity="0.14"/>
</g>
<clipPath id="bc3"><rect x="221" y="1194" width="515.8" height="206.6"/></clipPath>
<g clip-path="url(#bc3)">
<rect x="221" y="1194" width="515.8" height="206.6" fill="#a2a2a2"/>
<g filter="url(#b2)">
<rect x="215" y="1184" width="530" height="226.6" rx="0" fill="#a2a2a2" opacity="1"/>
<polygon points="241.1,1184 275.8,1184 269.7,1410.6 231.9,1410.6" fill="#747474" opacity="1"/>
<polygon points="287,1184 324.8,1184 314.1,1410.6 279.4,1410.6" fill="#747474" opacity="1"/>
<polygon points="334.5,1184 372.2,1184 360,1410.6 323.8,1410.6" fill="#747474" opacity="1"/>
<polygon points="418.6,1184 457.9,1184 447.2,1410.6 409.5,1410.6" fill="#747474" opacity="1"/>
<polygon points="467.6,1184 502.3,1184 491.6,1410.6 456.9,1410.6" fill="#747474" opacity="1"/>
<polygon points="512,1184 549.8,1184 542.1,1410.6 501.3,1410.6" fill="#747474" opacity="1"/>
<polygon points="597.7,1184 635.5,1184 630.9,1410.6 593.1,1410.6" fill="#747474" opacity="1"/>
<polygon points="646.7,1184 684.4,1184 682.9,1410.6 642.1,1410.6" fill="#747474" opacity="1"/>
<polygon points="694.1,1184 731.9,1184 730.4,1410.6 691.1,1410.6" fill="#747474" opacity="1"/>
</g>
<g filter="url(#b4)">
<polygon points="208,1184 238,1184 228,1410.6 208,1410.6" fill="#d4d4d4" opacity="1"/>
<polygon points="378,1184 413,1184 404,1410.6 365.5,1410.6" fill="#e1e1e1" opacity="1"/>
<polygon points="555.5,1184 592,1184 587.5,1410.6 547.5,1410.6" fill="#dfdfdf" opacity="1"/>
<rect x="734" y="1184" width="12" height="226.6" rx="0" fill="#cdcdcd" opacity="1"/>
</g>
<g filter="url(#b7)">
<ellipse cx="655" cy="1370" rx="70" ry="40" fill="#8c8c8c" opacity="0.22"/>
<ellipse cx="300" cy="1360" rx="60" ry="30" fill="#787878" opacity="0.12"/>
<ellipse cx="480" cy="1230" rx="60" ry="40" fill="#646464" opacity="0.12"/>
<ellipse cx="660" cy="1225" rx="60" ry="30" fill="#646464" opacity="0.14"/>
<rect x="221" y="1330" width="516" height="22" rx="0" fill="#646464" opacity="0.1"/>
<rect x="221" y="1240" width="516" height="16" rx="0" fill="#646464" opacity="0.06"/>
</g>
</g>
<rect x="221" y="1194" width="515.8" height="206.6" fill="url(#grid)" opacity="0.5"/>
<clipPath id="bc4"><rect x="220" y="1413" width="516.5" height="81.8"/></clipPath>
<g clip-path="url(#bc4)">
<rect x="220" y="1413" width="516.5" height="81.8" fill="#c5c5c5"/>
<g filter="url(#b2)">
<ellipse cx="260.8" cy="1450.5" rx="14" ry="3.2" fill="#464646" opacity="0.6"/>
<ellipse cx="345.8" cy="1455.5" rx="14" ry="3.2" fill="#6e6e6e" opacity="0.35"/>
<ellipse cx="431" cy="1456" rx="14" ry="3.2" fill="#3c3c3c" opacity="0.6"/>
<ellipse cx="476" cy="1456" rx="16" ry="3.2" fill="#787878" opacity="0.3"/>
<ellipse cx="517.6" cy="1456.3" rx="14" ry="3.2" fill="#5a5a5a" opacity="0.45"/>
<ellipse cx="608" cy="1459.5" rx="15" ry="3.2" fill="#787878" opacity="0.35"/>
<ellipse cx="646" cy="1461" rx="9" ry="3.2" fill="#828282" opacity="0.2"/>
<ellipse cx="696" cy="1461.5" rx="15" ry="3.2" fill="#646464" opacity="0.5"/>
<ellipse cx="420" cy="1456" rx="4" ry="3" fill="#282828" opacity="0.6"/>
<ellipse cx="249" cy="1450" rx="4" ry="3" fill="#3c3c3c" opacity="0.4"/>
</g>
<rect x="220" y="1413" width="516.5" height="81.8" filter="url(#grain)" opacity="0.14"/>
</g>
<text transform="translate(1531 918.5) scale(1 1.010)" font-size="27.6" text-anchor="middle" font-weight="bold">Lysate Fractions</text>
<text transform="translate(1313.7 967.1) scale(1 1.045)" font-size="27.6" text-anchor="middle">EV</text>
<line x1="1261.3" y1="979.4" x2="1371.3" y2="979.4" stroke="#000" stroke-width="4"/>
<text transform="translate(1526.8 969.3) scale(1 1.045)" font-size="27.6" text-anchor="middle">NHE1</text>
<line x1="1454" y1="979.4" x2="1580.7" y2="979.4" stroke="#000" stroke-width="4"/>
<text transform="translate(1698.3 969.3) scale(1 1.045)" font-size="27.6" text-anchor="middle">NHE9</text>
<line x1="1627.2" y1="979.4" x2="1754.1" y2="979.4" stroke="#000" stroke-width="4"/>
<text transform="translate(1221.7 1044.2) scale(1 1.025)" font-size="27.6" text-anchor="end">anti-FLAG</text>
<text transform="translate(1222.7 1142.8) scale(1 1.018)" font-size="27.6" text-anchor="end">anti-HA</text>
<text transform="translate(1224.2 1230.7) scale(1 1.009)" font-size="27.6" text-anchor="end">anti-Tubulin</text>
<text transform="translate(1768.6 1015.3) scale(1 1.032)" font-size="27.6">(KDa)</text>
<line x1="1769.4" y1="1057.6" x2="1778.2" y2="1057.6" stroke="#000" stroke-width="2.8"/>
<text transform="translate(1785.6 1066.3) scale(1 1.045)" font-size="27.6">100</text>
<line x1="1769.4" y1="1101.9" x2="1778.2" y2="1101.9" stroke="#000" stroke-width="2.8"/>
<text transform="translate(1785.6 1111.6) scale(1 1.045)" font-size="27.6">250</text>
<line x1="1765.5" y1="1226.3" x2="1774.5" y2="1226.3" stroke="#000" stroke-width="2.8"/>
<text transform="translate(1785 1235.5) scale(1 1.045)" font-size="27.6">50</text>
<clipPath id="bc5"><rect x="1235" y="990.2" width="526.3" height="84.5"/></clipPath>
<g clip-path="url(#bc5)">
<rect x="1235" y="990.2" width="526.3" height="84.5" fill="#cecece"/>
<g filter="url(#b3)">
<rect x="1444.7" y="980" width="34.5" height="104" rx="3" fill="url(#gR1a)" opacity="1"/>
<rect x="1500.2" y="980" width="34.6" height="104" rx="3" fill="url(#gR1b)" opacity="1"/>
<rect x="1554.1" y="980" width="33.9" height="104" rx="3" fill="url(#gR1c)" opacity="1"/>
</g>
<g filter="url(#b5)">
<ellipse cx="1449.2" cy="1052" rx="6" ry="24" fill="#464646" opacity="0.72"/>
<ellipse cx="1474.7" cy="1052" rx="6" ry="24" fill="#464646" opacity="0.72"/>
<ellipse cx="1461.95" cy="1056" rx="14.25" ry="12" fill="#5f5f5f" opacity="0.27"/>
<ellipse cx="1504.7" cy="1052" rx="6" ry="24" fill="#373737" opacity="0.8"/>
<ellipse cx="1530.3" cy="1052" rx="6" ry="24" fill="#373737" opacity="0.8"/>
<ellipse cx="1517.5" cy="1056" rx="14.3" ry="12" fill="#505050" opacity="0.3"/>
<ellipse cx="1558.6" cy="1052" rx="6" ry="24" fill="#323232" opacity="0.8"/>
<ellipse cx="1583.5" cy="1052" rx="6" ry="24" fill="#323232" opacity="0.8"/>
<ellipse cx="1571.05" cy="1056" rx="13.95" ry="12" fill="#4b4b4b" opacity="0.3"/>
</g>
<rect x="1235" y="990.2" width="526.3" height="84.5" filter="url(#grain)" opacity="0.14"/>
</g>
<clipPath id="bc6"><rect x="1235" y="1086.6" width="526.3" height="84"/></clipPath>
<g clip-path="url(#bc6)">
<rect x="1235" y="1086.6" width="526.3" height="84" fill="#d1d1d1"/>
<g filter="url(#b4)">
<polygon points="1623,1124 1628,1121 1640,1126 1651,1118.5 1656,1121.5 1656,1150 1651,1153 1640,1144 1628,1150 1623,1147" fill="#6e6e6e" opacity="0.85"/>
<ellipse cx="1651" cy="1135.75" rx="4" ry="14.25" fill="#555555" opacity="0.7"/>
<polygon points="1671,1125 1676,1122 1686,1127 1699.5,1120 1704.5,1123 1704.5,1155 1699.5,1158 1686,1146 1676,1152 1671,1149" fill="#6e6e6e" opacity="0.88"/>
<ellipse cx="1699.5" cy="1139" rx="4" ry="16" fill="#555555" opacity="0.7"/>
<polygon points="1716,1124 1721,1121 1734,1126 1749.5,1119.5 1754.5,1122.5 1754.5,1155.5 1749.5,1158.5 1734,1146 1721,1152 1716,1149" fill="#3c3c3c" opacity="1"/>
<ellipse cx="1749.5" cy="1139" rx="4" ry="16.5" fill="#232323" opacity="0.7"/>
</g>
<g filter="url(#b4)">
<ellipse cx="1639" cy="1135" rx="6" ry="9" fill="#cdcdcd" opacity="0.45"/>
<ellipse cx="1685" cy="1136.5" rx="6" ry="9" fill="#cdcdcd" opacity="0.5"/>
<ellipse cx="1733" cy="1136" rx="6" ry="9" fill="#cdcdcd" opacity="0.3"/>
</g>
<rect x="1235" y="1086.6" width="526.3" height="84" filter="url(#grain)" opacity="0.14"/>
</g>
<clipPath id="bc7"><rect x="1235" y="1182" width="526.3" height="84.6"/></clipPath>
<g clip-path="url(#bc7)">
<rect x="1235" y="1182" width="526.3" height="84.6" fill="#bcbcbc"/>
<g filter="url(#b15)">
<rect x="1253.35" y="1211.06" width="38.5" height="12.28" rx="6.14" fill="#242424" opacity="1"/>
<ellipse cx="1262.15" cy="1217.2" rx="8.8" ry="7.1" fill="#242424" opacity="1"/>
<ellipse cx="1283.05" cy="1217.2" rx="8.8" ry="7.1" fill="#242424" opacity="1"/>
<rect x="1299.75" y="1212.66" width="38.5" height="12.28" rx="6.14" fill="#242424" opacity="1"/>
<ellipse cx="1308.55" cy="1218.8" rx="8.8" ry="7.1" fill="#242424" opacity="1"/>
<ellipse cx="1329.45" cy="1218.8" rx="8.8" ry="7.1" fill="#242424" opacity="1"/>
<rect x="1345.95" y="1213.66" width="38.5" height="12.28" rx="6.14" fill="#242424" opacity="1"/>
<ellipse cx="1354.75" cy="1219.8" rx="8.8" ry="7.1" fill="#242424" opacity="1"/>
<ellipse cx="1375.65" cy="1219.8" rx="8.8" ry="7.1" fill="#242424" opacity="1"/>
<rect x="1434.05" y="1218.16" width="38.5" height="12.28" rx="6.14" fill="#242424" opacity="1"/>
<ellipse cx="1442.85" cy="1224.3" rx="8.8" ry="7.1" fill="#242424" opacity="1"/>
<ellipse cx="1463.75" cy="1224.3" rx="8.8" ry="7.1" fill="#242424" opacity="1"/>
<rect x="1480.25" y="1221.06" width="38.5" height="12.28" rx="6.14" fill="#242424" opacity="1"/>
<ellipse cx="1489.05" cy="1227.2" rx="8.8" ry="7.1" fill="#242424" opacity="1"/>
<ellipse cx="1509.95" cy="1227.2" rx="8.8" ry="7.1" fill="#242424" opacity="1"/>
<rect x="1525.55" y="1223.46" width="38.5" height="12.28" rx="6.14" fill="#242424" opacity="1"/>
<ellipse cx="1534.35" cy="1229.6" rx="8.8" ry="7.1" fill="#242424" opacity="1"/>
<ellipse cx="1555.25" cy="1229.6" rx="8.8" ry="7.1" fill="#242424" opacity="1"/>
<rect x="1612.55" y="1226.46" width="38.5" height="12.28" rx="6.14" fill="#242424" opacity="1"/>
<ellipse cx="1621.35" cy="1232.6" rx="8.8" ry="7.1" fill="#242424" opacity="1"/>
<ellipse cx="1642.25" cy="1232.6" rx="8.8" ry="7.1" fill="#242424" opacity="1"/>
<rect x="1657.25" y="1229.46" width="38.5" height="12.28" rx="6.14" fill="#242424" opacity="1"/>
<ellipse cx="1666.05" cy="1235.6" rx="8.8" ry="7.1" fill="#242424" opacity="1"/>
<ellipse cx="1686.95" cy="1235.6" rx="8.8" ry="7.1" fill="#242424" opacity="1"/>
<rect x="1701.55" y="1231.66" width="38.5" height="12.28" rx="6.14" fill="#242424" opacity="1"/>
<ellipse cx="1710.35" cy="1237.8" rx="8.8" ry="7.1" fill="#242424" opacity="1"/>
<ellipse cx="1731.25" cy="1237.8" rx="8.8" ry="7.1" fill="#242424" opacity="1"/>
</g>
<rect x="1235" y="1182" width="526.3" height="84.6" filter="url(#grain)" opacity="0.14"/>
</g>
<text transform="translate(1221.5 1322.2) scale(1 1.045)" font-size="27.6" text-anchor="middle" font-weight="bold">NHE1</text>
<text transform="translate(1139.2 1358) scale(1 1.012)" font-size="27.6" text-anchor="middle">Lysate</text>
<text transform="translate(1281.7 1358) scale(1 1.012)" font-size="27.6" text-anchor="middle">Biotin</text>
<line x1="1085.2" y1="1369.2" x2="1195.6" y2="1369.2" stroke="#000" stroke-width="4"/>
<line x1="1228" y1="1369.2" x2="1338.7" y2="1369.2" stroke="#000" stroke-width="4"/>
<text transform="translate(1074.3 1418.2) scale(1 1.025)" font-size="27.6" text-anchor="end">anti-FLAG</text>
<text transform="translate(1076.5 1480.6) scale(1 1.009)" font-size="27.6" text-anchor="end">anti-Tubulin</text>
<text transform="translate(1352.7 1390.1) scale(1 1.032)" font-size="27.6">(KDa)</text>
<line x1="1352.1" y1="1425" x2="1358.6" y2="1425" stroke="#000" stroke-width="2.3"/>
<text transform="translate(1368.4 1431.3) scale(1 1.045)" font-size="27.6">100</text>
<line x1="1354.3" y1="1487.3" x2="1361.4" y2="1487.3" stroke="#000" stroke-width="2.3"/>
<text transform="translate(1370.6 1493) scale(1 1.045)" font-size="27.6">50</text>
<line x1="1089.6" y1="1513.8" x2="1200" y2="1513.8" stroke="#000" stroke-width="4"/>
<line x1="1227.4" y1="1513.8" x2="1337.8" y2="1513.8" stroke="#000" stroke-width="4"/>
<text transform="translate(1000.4 1541.4) scale(1 1.013)" font-size="27.6" font-weight="bold">Input:</text>
<text transform="translate(1136.7 1544.5) scale(1 1.045)" font-size="27.6" text-anchor="middle" font-weight="bold">0.05%</text>
<text transform="translate(1281.7 1544.5) scale(1 1.045)" font-size="27.6" text-anchor="middle" font-weight="bold">5%</text>
<clipPath id="bc8"><rect x="1081.2" y="1375.1" width="264.1" height="60.9"/></clipPath>
<g clip-path="url(#bc8)">
<rect x="1081.2" y="1375.1" width="264.1" height="60.9" fill="#d1d1d1"/>
<g filter="url(#b3)">
<rect x="1094.7" y="1376" width="23" height="64" rx="4" fill="url(#gsm3)" opacity="1"/>
<ellipse cx="1106.2" cy="1409" rx="11.5" ry="7" fill="#5f5f5f" opacity="0.5"/>
<ellipse cx="1106.2" cy="1433" rx="11.5" ry="5" fill="#5f5f5f" opacity="0.35"/>
<rect x="1129.2" y="1376" width="23.8" height="64" rx="4" fill="url(#gsm3)" opacity="1"/>
<ellipse cx="1141.1" cy="1409" rx="11.5" ry="7" fill="#5f5f5f" opacity="0.5"/>
<ellipse cx="1141.1" cy="1433" rx="11.5" ry="5" fill="#5f5f5f" opacity="0.35"/>
<rect x="1164.5" y="1376" width="23" height="64" rx="4" fill="url(#gsm3)" opacity="1"/>
<ellipse cx="1176" cy="1409" rx="11.5" ry="7" fill="#5f5f5f" opacity="0.5"/>
<ellipse cx="1176" cy="1433" rx="11.5" ry="5" fill="#5f5f5f" opacity="0.35"/>
<rect x="1233.3" y="1376" width="20.3" height="30" rx="5" fill="#969696" opacity="0.35"/>
<rect x="1269.4" y="1376" width="19.5" height="30" rx="5" fill="#969696" opacity="0.35"/>
<rect x="1306.4" y="1376" width="21.2" height="30" rx="5" fill="#969696" opacity="0.35"/>
</g>
<g filter="url(#b3)">
<polygon points="1230.3,1406 1236.3,1403 1243.45,1407 1250.6,1403 1256.6,1406 1256.6,1426 1250.6,1429 1243.45,1425 1236.3,1429 1230.3,1426" fill="#3e3e3e" opacity="1"/>
<polygon points="1266.4,1406 1272.4,1403 1279.15,1407 1285.9,1403 1291.9,1406 1291.9,1426 1285.9,1429 1279.15,1425 1272.4,1429 1266.4,1426" fill="#3e3e3e" opacity="1"/>
<polygon points="1303.4,1406 1309.4,1403 1317,1407 1324.6,1403 1330.6,1406 1330.6,1426 1324.6,1429 1317,1425 1309.4,1429 1303.4,1426" fill="#3e3e3e" opacity="1"/>
</g>
<g filter="url(#b3)">
<ellipse cx="1243.45" cy="1415" rx="3.5" ry="8" fill="#c8c8c8" opacity="0.3"/>
<ellipse cx="1279.15" cy="1415" rx="3.5" ry="8" fill="#c8c8c8" opacity="0.3"/>
<ellipse cx="1317" cy="1415" rx="3.5" ry="8" fill="#c8c8c8" opacity="0.3"/>
</g>
<rect x="1081.2" y="1375.1" width="264.1" height="60.9" filter="url(#grain)" opacity="0.14"/>
</g>
<clipPath id="bc9"><rect x="1081.2" y="1444" width="264.1" height="56.8"/></clipPath>
<g clip-path="url(#bc9)">
<rect x="1081.2" y="1444" width="264.1" height="56.8" fill="#dedede"/>
<g filter="url(#b2)">
<rect x="1092.5" y="1467.7" width="29" height="11.8" rx="5.9" fill="#3e3e3e" opacity="1"/>
<ellipse cx="1100.56" cy="1473.6" rx="8.06" ry="6.5" fill="#3e3e3e" opacity="1"/>
<ellipse cx="1113.44" cy="1473.6" rx="8.06" ry="6.5" fill="#3e3e3e" opacity="1"/>
<rect x="1129.5" y="1468.95" width="27" height="9.3" rx="4.65" fill="#646464" opacity="1"/>
<ellipse cx="1136.01" cy="1473.6" rx="6.51" ry="5.25" fill="#646464" opacity="1"/>
<ellipse cx="1149.99" cy="1473.6" rx="6.51" ry="5.25" fill="#646464" opacity="1"/>
<rect x="1165.45" y="1468.95" width="28.5" height="9.3" rx="4.65" fill="#5f5f5f" opacity="1"/>
<ellipse cx="1171.96" cy="1473.6" rx="6.51" ry="5.25" fill="#5f5f5f" opacity="1"/>
<ellipse cx="1187.44" cy="1473.6" rx="6.51" ry="5.25" fill="#5f5f5f" opacity="1"/>
</g>
<rect x="1081.2" y="1444" width="264.1" height="56.8" filter="url(#grain)" opacity="0.14"/>
</g>
<text transform="translate(1784.3 1321.4) scale(1 1.045)" font-size="27.6" text-anchor="middle" font-weight="bold">NHE9</text>
<text transform="translate(1710.2 1353.5) scale(1 1.012)" font-size="27.6" text-anchor="middle">Lysate</text>
<text transform="translate(1851.2 1353.5) scale(1 1.012)" font-size="27.6" text-anchor="middle">Biotin</text>
<line x1="1657.6" y1="1364.3" x2="1767.8" y2="1364.3" stroke="#000" stroke-width="4"/>
<line x1="1792.7" y1="1364.3" x2="1902.8" y2="1364.3" stroke="#000" stroke-width="4"/>
<text transform="translate(1639.6 1412.9) scale(1 1.018)" font-size="27.6" text-anchor="end">anti-HA</text>
<text transform="translate(1642.7 1483) scale(1 1.009)" font-size="27.6" text-anchor="end">anti-Tubulin</text>
<text transform="translate(1919 1387.4) scale(1 1.032)" font-size="27.6">(KDa)</text>
<line x1="1918.4" y1="1415.7" x2="1925.3" y2="1415.7" stroke="#000" stroke-width="2.3"/>
<text transform="translate(1935.2 1424.7) scale(1 1.045)" font-size="27.6">100</text>
<line x1="1920" y1="1479.2" x2="1926.8" y2="1479.2" stroke="#000" stroke-width="2.3"/>
<text transform="translate(1939.9 1487) scale(1 1.045)" font-size="27.6">50</text>
<line x1="1660.7" y1="1511.8" x2="1770.6" y2="1511.8" stroke="#000" stroke-width="4"/>
<line x1="1801.1" y1="1511.8" x2="1911.3" y2="1511.8" stroke="#000" stroke-width="4"/>
<text transform="translate(1562.4 1544.6) scale(1 1.013)" font-size="27.6" font-weight="bold">Input:</text>
<text transform="translate(1715.8 1546.1) scale(1 1.045)" font-size="27.6" text-anchor="middle" font-weight="bold">0.05%</text>
<text transform="translate(1852.1 1544) scale(1 1.045)" font-size="27.6" text-anchor="middle" font-weight="bold">5%</text>
<clipPath id="bc10"><rect x="1649.2" y="1375.8" width="264.5" height="60.5"/></clipPath>
<g clip-path="url(#bc10)">
<rect x="1649.2" y="1375.8" width="264.5" height="60.5" fill="#d2d2d2"/>
<g filter="url(#b3)">
<ellipse cx="1680.5" cy="1414.5" rx="10" ry="7" fill="#a0a0a0" opacity="0.3"/>
<ellipse cx="1714" cy="1412.5" rx="10" ry="7" fill="#a0a0a0" opacity="0.3"/>
<ellipse cx="1747.5" cy="1411.5" rx="10" ry="7" fill="#a0a0a0" opacity="0.3"/>
<rect x="1799.5" y="1403" width="23" height="50" rx="6" fill="#969696" opacity="0.45"/>
<rect x="1836" y="1404" width="23" height="50" rx="6" fill="#969696" opacity="0.45"/>
<rect x="1872" y="1398" width="20.5" height="50" rx="6" fill="#969696" opacity="0.45"/>
<rect x="1872" y="1385" width="21" height="50" rx="5" fill="#6e6e6e" opacity="0.5"/>
</g>
<g filter="url(#b2)">
<rect x="1669.5" y="1397" width="22" height="11" rx="5.5" fill="#969696" opacity="0.85"/>
<rect x="1702.5" y="1395" width="23" height="11" rx="5.5" fill="#505050" opacity="0.9"/>
<rect x="1735.5" y="1394" width="24" height="11" rx="5.5" fill="#3c3c3c" opacity="0.95"/>
<ellipse cx="1708.5" cy="1400.5" rx="5" ry="6" fill="#323232" opacity="0.6"/>
<ellipse cx="1756" cy="1398.5" rx="7" ry="6" fill="#282828" opacity="0.7"/>
<polygon points="1797.5,1398 1802.5,1395 1811,1400 1819.5,1396 1824.5,1399 1824.5,1415 1819.5,1418 1811,1413 1802.5,1418 1797.5,1415" fill="#323232" opacity="1"/>
<polygon points="1834,1399 1839,1396 1847.5,1401 1856,1397 1861,1400 1861,1416 1856,1419 1847.5,1414 1839,1419 1834,1416" fill="#373737" opacity="1"/>
<polygon points="1870,1393 1875,1390 1882.25,1395 1889.5,1391 1894.5,1394 1894.5,1419 1889.5,1422 1882.25,1417 1875,1422 1870,1419" fill="#2a2a2a" opacity="1"/>
</g>
<g filter="url(#b3)">
<ellipse cx="1811" cy="1406.5" rx="3.5" ry="7" fill="#c8c8c8" opacity="0.28"/>
<ellipse cx="1847.5" cy="1407.5" rx="3.5" ry="7" fill="#c8c8c8" opacity="0.28"/>
<ellipse cx="1882.25" cy="1406" rx="3.5" ry="7" fill="#c8c8c8" opacity="0.1"/>
</g>
<rect x="1649.2" y="1375.8" width="264.5" height="60.5" filter="url(#grain)" opacity="0.14"/>
</g>
<clipPath id="bc11"><rect x="1649.2" y="1444.3" width="264.5" height="57"/></clipPath>
<g clip-path="url(#bc11)">
<rect x="1649.2" y="1444.3" width="264.5" height="57" fill="#cecece"/>
<g filter="url(#b15)">
<rect x="1662.05" y="1469.08" width="35.5" height="12.44" rx="6.22" fill="#262626" opacity="1"/>
<ellipse cx="1670.36" cy="1475.3" rx="8.31" ry="6.7" fill="#262626" opacity="1"/>
<ellipse cx="1689.24" cy="1475.3" rx="8.31" ry="6.7" fill="#262626" opacity="1"/>
<rect x="1701.05" y="1469.08" width="30.5" height="12.44" rx="6.22" fill="#262626" opacity="1"/>
<ellipse cx="1709.36" cy="1475.3" rx="8.31" ry="6.7" fill="#262626" opacity="1"/>
<ellipse cx="1723.24" cy="1475.3" rx="8.31" ry="6.7" fill="#262626" opacity="1"/>
<rect x="1737.55" y="1469.08" width="32.5" height="12.44" rx="6.22" fill="#262626" opacity="1"/>
<ellipse cx="1745.86" cy="1475.3" rx="8.31" ry="6.7" fill="#262626" opacity="1"/>
<ellipse cx="1761.74" cy="1475.3" rx="8.31" ry="6.7" fill="#262626" opacity="1"/>
<rect x="1694" y="1473" width="46" height="4.5" rx="0" fill="#505050" opacity="0.6"/>
</g>
<rect x="1649.2" y="1444.3" width="264.5" height="57" filter="url(#grain)" opacity="0.14"/>
</g>
</g>
<g id="panel-d">
<rect x="209.8" y="1676.5" width="590.7" height="642.5" fill="#fcfcfc"/>
<text transform="translate(6.5 1640.5) scale(1 1.005)" font-size="25" font-weight="bold">d</text>
<line x1="221.9" y1="1740.88" x2="221.9" y2="2307.4" stroke="#9a9a9a" stroke-width="1"/>
<line x1="224.1" y1="1739.38" x2="224.1" y2="2308.9" stroke="#000" stroke-width="3"/>
<line x1="213.2" y1="2307.4" x2="792.6" y2="2307.4" stroke="#000" stroke-width="3"/>
<line x1="213.2" y1="2307.4" x2="224.1" y2="2307.4" stroke="#000" stroke-width="3"/>
<text transform="translate(211 2311.4) scale(1 1.045)" font-size="27.2" text-anchor="end">0.000</text>
<line x1="213.2" y1="2212.98" x2="224.1" y2="2212.98" stroke="#000" stroke-width="3"/>
<text transform="translate(206.9 2223.48) scale(1 1.045)" font-size="27.2" text-anchor="end">0.001</text>
<line x1="213.2" y1="2118.56" x2="224.1" y2="2118.56" stroke="#000" stroke-width="3"/>
<text transform="translate(206.9 2129.06) scale(1 1.045)" font-size="27.2" text-anchor="end">0.002</text>
<line x1="213.2" y1="2024.14" x2="224.1" y2="2024.14" stroke="#000" stroke-width="3"/>
<text transform="translate(206.9 2034.64) scale(1 1.045)" font-size="27.2" text-anchor="end">0.003</text>
<line x1="213.2" y1="1929.72" x2="224.1" y2="1929.72" stroke="#000" stroke-width="3"/>
<text transform="translate(206.9 1940.22) scale(1 1.045)" font-size="27.2" text-anchor="end">0.004</text>
<line x1="213.2" y1="1835.3" x2="224.1" y2="1835.3" stroke="#000" stroke-width="3"/>
<text transform="translate(206.9 1845.8) scale(1 1.045)" font-size="27.2" text-anchor="end">0.005</text>
<line x1="213.2" y1="1740.88" x2="224.1" y2="1740.88" stroke="#000" stroke-width="3"/>
<text transform="translate(206.9 1751.38) scale(1 1.045)" font-size="27.2" text-anchor="end">0.006</text>
<line x1="317.5" y1="2307.4" x2="317.5" y2="2318" stroke="#000" stroke-width="3"/>
<line x1="506.3" y1="2307.4" x2="506.3" y2="2318" stroke="#000" stroke-width="3"/>
<line x1="695.4" y1="2307.4" x2="695.4" y2="2318" stroke="#000" stroke-width="3"/>
<text transform="translate(314.6 2350.3) scale(1 1.045)" font-size="27.2" text-anchor="middle">EV</text>
<text transform="translate(516 2348) scale(1 1.045)" font-size="27.2" text-anchor="middle">NHE1</text>
<text transform="translate(693.7 2349.5) scale(1 1.045)" font-size="27.2" text-anchor="middle">NHE9</text>
<text transform="translate(68 2008.1) rotate(-90) scale(1 1.015)" font-size="27.2" text-anchor="middle">NHE transport</text>
<text transform="translate(99.8 2025.7) rotate(-90) scale(1 1.025)" font-size="27.2" text-anchor="middle">[ΔpH/s]</text>
<line x1="506.3" y1="1986.5" x2="506.3" y2="2151.2" stroke="#000" stroke-width="3"/>
<line x1="483.3" y1="1986.5" x2="530.1" y2="1986.5" stroke="#000" stroke-width="3"/>
<line x1="483.3" y1="2151.2" x2="530.1" y2="2151.2" stroke="#000" stroke-width="3"/>
<line x1="459.5" y1="2069.3" x2="553.9" y2="2069.3" stroke="#000" stroke-width="3"/>
<circle cx="492.4" cy="1913.2" r="7.4" fill="#000"/>
<circle cx="521" cy="1913.2" r="7.4" fill="#000"/>
<circle cx="506.7" cy="1969.6" r="7.4" fill="#000"/>
<circle cx="478.5" cy="2054" r="7.4" fill="#000"/>
<circle cx="506.7" cy="2054" r="7.4" fill="#000"/>
<circle cx="535.5" cy="2054" r="7.4" fill="#000"/>
<circle cx="478.5" cy="2082.3" r="7.4" fill="#000"/>
<circle cx="506.7" cy="2082.3" r="7.4" fill="#000"/>
<circle cx="535.5" cy="2082.3" r="7.4" fill="#000"/>
<circle cx="478.5" cy="2110.7" r="7.4" fill="#000"/>
<circle cx="506.7" cy="2110.7" r="7.4" fill="#000"/>
<circle cx="535.5" cy="2110.7" r="7.4" fill="#000"/>
<circle cx="506.7" cy="2138.4" r="7.4" fill="#000"/>
<circle cx="506.7" cy="2167" r="7.4" fill="#000"/>
<circle cx="506.7" cy="2195.1" r="7.4" fill="#000"/>
<circle cx="279" cy="2307.4" r="7.5" fill="#000"/>
<circle cx="284.67" cy="2307.4" r="7.5" fill="#000"/>
<circle cx="290.34" cy="2307.4" r="7.5" fill="#000"/>
<circle cx="296.01" cy="2307.4" r="7.5" fill="#000"/>
<circle cx="301.69" cy="2307.4" r="7.5" fill="#000"/>
<circle cx="307.36" cy="2307.4" r="7.5" fill="#000"/>
<circle cx="313.03" cy="2307.4" r="7.5" fill="#000"/>
<circle cx="318.7" cy="2307.4" r="7.5" fill="#000"/>
<circle cx="324.37" cy="2307.4" r="7.5" fill="#000"/>
<circle cx="330.04" cy="2307.4" r="7.5" fill="#000"/>
<circle cx="335.71" cy="2307.4" r="7.5" fill="#000"/>
<circle cx="341.39" cy="2307.4" r="7.5" fill="#000"/>
<circle cx="347.06" cy="2307.4" r="7.5" fill="#000"/>
<circle cx="352.73" cy="2307.4" r="7.5" fill="#000"/>
<circle cx="358.4" cy="2307.4" r="7.5" fill="#000"/>
<g fill="none" stroke="#000" stroke-width="3.5">
<circle cx="654.6" cy="2307.4" r="5.9"/>
<circle cx="660.85" cy="2307.4" r="5.9"/>
<circle cx="667.09" cy="2307.4" r="5.9"/>
<circle cx="673.34" cy="2307.4" r="5.9"/>
<circle cx="679.58" cy="2307.4" r="5.9"/>
<circle cx="685.83" cy="2307.4" r="5.9"/>
<circle cx="692.08" cy="2307.4" r="5.9"/>
<circle cx="698.32" cy="2307.4" r="5.9"/>
<circle cx="704.57" cy="2307.4" r="5.9"/>
<circle cx="710.82" cy="2307.4" r="5.9"/>
<circle cx="717.06" cy="2307.4" r="5.9"/>
<circle cx="723.31" cy="2307.4" r="5.9"/>
<circle cx="729.55" cy="2307.4" r="5.9"/>
<circle cx="735.8" cy="2307.4" r="5.9"/>
</g>
<line x1="695.4" y1="2307.4" x2="695.4" y2="2318.5" stroke="#000" stroke-width="3"/>
<path d="M318 1891.3 V1870.1 H506.9 V1891.3" fill="none" stroke="#000" stroke-width="3"/>
<text x="382.3" y="1862.8" font-family="'DejaVu Sans', sans-serif" font-weight="bold" font-size="34" letter-spacing="3.6" stroke="#000" stroke-width="0.7">***</text>
</g>
<g id="panel-e">
<text transform="translate(1034 1653) scale(1 1.005)" font-size="25" font-weight="bold">e</text>
<line x1="1174.8" y1="1737.5" x2="1174.8" y2="2320.8" stroke="#000" stroke-width="3.6"/>
<line x1="1163.8" y1="2319.9" x2="1628" y2="2319.9" stroke="#000" stroke-width="3.6"/>
<line x1="1163.8" y1="2319" x2="1175.2" y2="2319" stroke="#000" stroke-width="3.3"/>
<text transform="translate(1156 2330.5) scale(1 1.045)" font-size="27.6" text-anchor="end">4</text>
<line x1="1163.8" y1="2174.05" x2="1175.2" y2="2174.05" stroke="#000" stroke-width="3.3"/>
<text transform="translate(1156 2185.25) scale(1 1.045)" font-size="27.6" text-anchor="end">5</text>
<line x1="1163.8" y1="2029.1" x2="1175.2" y2="2029.1" stroke="#000" stroke-width="3.3"/>
<text transform="translate(1156 2041.3) scale(1 1.045)" font-size="27.6" text-anchor="end">6</text>
<line x1="1163.8" y1="1884.15" x2="1175.2" y2="1884.15" stroke="#000" stroke-width="3.3"/>
<text transform="translate(1156 1895.45) scale(1 1.045)" font-size="27.6" text-anchor="end">7</text>
<line x1="1163.8" y1="1739.2" x2="1175.2" y2="1739.2" stroke="#000" stroke-width="3.3"/>
<text transform="translate(1156 1754.4) scale(1 1.045)" font-size="27.6" text-anchor="end">8</text>
<line x1="1319.4" y1="2319" x2="1319.4" y2="2331.2" stroke="#000" stroke-width="3.3"/>
<line x1="1609.7" y1="2319" x2="1609.7" y2="2331.2" stroke="#000" stroke-width="3.3"/>
<text transform="translate(1312.4 2376.8) scale(1 1.045)" font-size="27.6" text-anchor="middle">EV</text>
<text transform="translate(1625.8 2376) scale(1 1.045)" font-size="27.6" text-anchor="middle">NHE9</text>
<text transform="translate(1100 1990.2) rotate(-90) scale(1 1.012)" font-size="27.6" text-anchor="middle">Endosomal pH</text>
<line x1="1320.3" y1="1756.4" x2="1610" y2="1756.4" stroke="#808080" stroke-width="1.8"/>
<text x="1429.2" y="1748.9" font-family="'DejaVu Sans', sans-serif" font-weight="bold" font-size="31" letter-spacing="2.1" stroke="#000" stroke-width="0.6">****</text>
<g fill="none" stroke="#000" stroke-width="3.1">
<circle cx="1309.23" cy="1936.62" r="6.9"/>
<circle cx="1358.1" cy="1950.57" r="6.9"/>
<circle cx="1343.02" cy="2021.28" r="6.9"/>
<circle cx="1275.61" cy="1911.33" r="6.9"/>
<circle cx="1301.19" cy="1950.44" r="6.9"/>
<circle cx="1324.02" cy="1904.81" r="6.9"/>
<circle cx="1318.78" cy="1955.37" r="6.9"/>
<circle cx="1351.54" cy="1902.2" r="6.9"/>
<circle cx="1311.6" cy="1961.38" r="6.9"/>
<circle cx="1322.28" cy="2006.8" r="6.9"/>
<circle cx="1272.54" cy="1924.5" r="6.9"/>
<circle cx="1336.67" cy="1900.01" r="6.9"/>
<circle cx="1283" cy="1999.82" r="6.9"/>
<circle cx="1313.24" cy="1999.95" r="6.9"/>
<circle cx="1299.54" cy="1916.31" r="6.9"/>
<circle cx="1344.79" cy="1987.18" r="6.9"/>
<circle cx="1282.14" cy="1972.82" r="6.9"/>
<circle cx="1316.08" cy="1929.13" r="6.9"/>
<circle cx="1299.59" cy="2007.64" r="6.9"/>
<circle cx="1378.99" cy="2000.22" r="6.9"/>
<circle cx="1321.49" cy="1892.57" r="6.9"/>
<circle cx="1308.78" cy="1928.37" r="6.9"/>
<circle cx="1276.93" cy="2007.56" r="6.9"/>
<circle cx="1341.2" cy="1938.86" r="6.9"/>
<circle cx="1345.2" cy="1912.84" r="6.9"/>
<circle cx="1260.79" cy="2004.46" r="6.9"/>
<circle cx="1326.56" cy="2022.1" r="6.9"/>
<circle cx="1323.66" cy="2081.83" r="6.9"/>
<circle cx="1308.48" cy="1952.59" r="6.9"/>
<circle cx="1370.06" cy="1936.09" r="6.9"/>
<circle cx="1305.57" cy="2033.14" r="6.9"/>
<circle cx="1265.79" cy="1929.14" r="6.9"/>
<circle cx="1316.16" cy="2007.93" r="6.9"/>
<circle cx="1343.88" cy="1898.18" r="6.9"/>
<circle cx="1307.53" cy="1923.95" r="6.9"/>
<circle cx="1356.64" cy="1995.45" r="6.9"/>
<circle cx="1271.64" cy="1951.71" r="6.9"/>
<circle cx="1298.28" cy="1973.19" r="6.9"/>
<circle cx="1306.23" cy="2019.64" r="6.9"/>
<circle cx="1279.81" cy="1938.31" r="6.9"/>
<circle cx="1376.76" cy="2007.17" r="6.9"/>
<circle cx="1322.28" cy="1873.2" r="6.9"/>
<circle cx="1311.67" cy="1902.03" r="6.9"/>
<circle cx="1352.56" cy="1913.32" r="6.9"/>
<circle cx="1254.28" cy="1998.38" r="6.9"/>
<circle cx="1308.89" cy="2022.78" r="6.9"/>
<circle cx="1346.97" cy="2009.29" r="6.9"/>
<circle cx="1311.31" cy="2033.27" r="6.9"/>
<circle cx="1317.39" cy="1965.8" r="6.9"/>
<circle cx="1322.52" cy="2045.76" r="6.9"/>
<circle cx="1332.15" cy="1988.02" r="6.9"/>
<circle cx="1300.84" cy="1983.38" r="6.9"/>
<circle cx="1315.37" cy="2072.85" r="6.9"/>
<circle cx="1312.9" cy="1972.78" r="6.9"/>
<circle cx="1325.68" cy="2005.99" r="6.9"/>
<circle cx="1351.03" cy="1951.8" r="6.9"/>
<circle cx="1323.66" cy="1858.69" r="6.9"/>
<circle cx="1349.72" cy="1976.79" r="6.9"/>
<circle cx="1352.58" cy="1984.68" r="6.9"/>
<circle cx="1284.67" cy="2009.42" r="6.9"/>
<circle cx="1303.33" cy="2055.33" r="6.9"/>
<circle cx="1338.37" cy="1913.6" r="6.9"/>
<circle cx="1312.95" cy="1934.46" r="6.9"/>
<circle cx="1377.55" cy="1911.88" r="6.9"/>
<circle cx="1322.86" cy="1953.86" r="6.9"/>
<circle cx="1368.03" cy="1916.22" r="6.9"/>
<circle cx="1327.85" cy="1960.46" r="6.9"/>
<circle cx="1335.28" cy="2022.51" r="6.9"/>
<circle cx="1279.85" cy="1987.69" r="6.9"/>
<circle cx="1309.87" cy="2052.29" r="6.9"/>
<circle cx="1329.07" cy="1951.02" r="6.9"/>
<circle cx="1277.92" cy="1951.91" r="6.9"/>
<circle cx="1311.29" cy="1938.14" r="6.9"/>
<circle cx="1319.07" cy="2052.3" r="6.9"/>
<circle cx="1344.87" cy="1923.84" r="6.9"/>
<circle cx="1319.53" cy="1944.9" r="6.9"/>
<circle cx="1289.3" cy="2019.92" r="6.9"/>
<circle cx="1281.64" cy="1960.76" r="6.9"/>
<circle cx="1291.9" cy="1916.08" r="6.9"/>
<circle cx="1302.44" cy="1941.39" r="6.9"/>
<circle cx="1324.25" cy="1991.94" r="6.9"/>
<circle cx="1317.69" cy="1938.94" r="6.9"/>
<circle cx="1331.68" cy="2045.72" r="6.9"/>
<circle cx="1316.06" cy="1869.74" r="6.9"/>
<circle cx="1322.74" cy="2025.88" r="6.9"/>
<circle cx="1323.49" cy="2052.69" r="6.9"/>
<circle cx="1296.31" cy="1961.95" r="6.9"/>
<circle cx="1324.69" cy="1986.89" r="6.9"/>
<circle cx="1361.54" cy="2009.74" r="6.9"/>
<circle cx="1286.62" cy="1948.8" r="6.9"/>
<circle cx="1317.06" cy="1983.26" r="6.9"/>
<circle cx="1289.99" cy="1996.54" r="6.9"/>
<circle cx="1332.83" cy="1939.5" r="6.9"/>
<circle cx="1354.42" cy="1937.71" r="6.9"/>
<circle cx="1303.06" cy="1932.09" r="6.9"/>
<circle cx="1269.06" cy="1914.47" r="6.9"/>
<circle cx="1307.76" cy="2056.62" r="6.9"/>
<circle cx="1297.72" cy="2000.01" r="6.9"/>
<circle cx="1353.74" cy="2007.89" r="6.9"/>
<circle cx="1273.32" cy="1936.2" r="6.9"/>
<circle cx="1282.9" cy="1892.54" r="6.9"/>
<circle cx="1327.21" cy="1959.85" r="6.9"/>
<circle cx="1329.38" cy="1899.97" r="6.9"/>
<circle cx="1301.66" cy="1926.8" r="6.9"/>
<circle cx="1347.43" cy="1940.06" r="6.9"/>
<circle cx="1317.49" cy="1989.52" r="6.9"/>
<circle cx="1303.98" cy="1972.89" r="6.9"/>
<circle cx="1342.89" cy="1962.04" r="6.9"/>
<circle cx="1294.34" cy="1940.89" r="6.9"/>
<circle cx="1310.11" cy="2025.67" r="6.9"/>
<circle cx="1289.18" cy="1900.39" r="6.9"/>
<circle cx="1314.18" cy="1916.39" r="6.9"/>
<circle cx="1355.97" cy="1976.58" r="6.9"/>
<circle cx="1316.68" cy="1910.14" r="6.9"/>
<circle cx="1307.08" cy="2081.14" r="6.9"/>
<circle cx="1314.46" cy="2045.75" r="6.9"/>
<circle cx="1357.01" cy="1960.58" r="6.9"/>
<circle cx="1362.2" cy="1996.15" r="6.9"/>
<circle cx="1268.74" cy="1997.35" r="6.9"/>
<circle cx="1326.65" cy="1973.55" r="6.9"/>
<circle cx="1327.43" cy="2030.23" r="6.9"/>
<circle cx="1293.57" cy="1984.91" r="6.9"/>
<circle cx="1309.12" cy="1984.61" r="6.9"/>
<circle cx="1305.46" cy="1897.71" r="6.9"/>
<circle cx="1313.95" cy="2059.53" r="6.9"/>
<circle cx="1327.12" cy="2000.27" r="6.9"/>
<circle cx="1369.66" cy="1995.82" r="6.9"/>
<circle cx="1334.09" cy="1963.16" r="6.9"/>
<circle cx="1305.02" cy="1960.08" r="6.9"/>
<circle cx="1290.31" cy="1960.85" r="6.9"/>
<circle cx="1320.32" cy="1961.97" r="6.9"/>
<circle cx="1318.83" cy="1876.65" r="6.9"/>
<circle cx="1308.69" cy="2042.04" r="6.9"/>
<circle cx="1261.21" cy="1911.51" r="6.9"/>
<circle cx="1348.5" cy="1998.09" r="6.9"/>
<circle cx="1319.46" cy="2020.14" r="6.9"/>
<circle cx="1365.16" cy="1964.21" r="6.9"/>
<circle cx="1339.55" cy="1889.78" r="6.9"/>
<circle cx="1319.94" cy="1898.65" r="6.9"/>
<circle cx="1284.61" cy="1913.8" r="6.9"/>
<circle cx="1275.17" cy="2000.26" r="6.9"/>
<circle cx="1375.91" cy="1916.36" r="6.9"/>
<circle cx="1294.19" cy="1924.77" r="6.9"/>
<circle cx="1314.07" cy="1948.8" r="6.9"/>
<circle cx="1316.28" cy="1982.1" r="6.9"/>
<circle cx="1330.48" cy="2057.32" r="6.9"/>
<circle cx="1340.84" cy="1998.39" r="6.9"/>
<circle cx="1297.17" cy="1900.72" r="6.9"/>
<circle cx="1288.25" cy="1936.9" r="6.9"/>
<circle cx="1333.04" cy="2030.54" r="6.9"/>
<circle cx="1320.25" cy="1921.33" r="6.9"/>
<circle cx="1372.72" cy="1929.18" r="6.9"/>
<circle cx="1260.97" cy="2000.7" r="6.9"/>
<circle cx="1384.15" cy="1998.25" r="6.9"/>
<circle cx="1329.39" cy="1924.43" r="6.9"/>
<circle cx="1320.29" cy="1995.48" r="6.9"/>
<circle cx="1325.59" cy="1939.36" r="6.9"/>
<circle cx="1322.87" cy="1911.7" r="6.9"/>
<circle cx="1315.37" cy="1853.16" r="6.9"/>
<circle cx="1321.23" cy="1969.66" r="6.9"/>
<circle cx="1297.58" cy="2022.47" r="6.9"/>
<circle cx="1314.64" cy="2016.22" r="6.9"/>
<circle cx="1304.14" cy="1999.87" r="6.9"/>
<circle cx="1343.79" cy="1950.21" r="6.9"/>
<circle cx="1320.66" cy="1923.13" r="6.9"/>
<circle cx="1316.72" cy="2049.61" r="6.9"/>
<circle cx="1318.33" cy="2030.78" r="6.9"/>
<circle cx="1366.46" cy="1948.61" r="6.9"/>
<circle cx="1369.01" cy="2009.69" r="6.9"/>
<circle cx="1307.08" cy="2008.91" r="6.9"/>
<circle cx="1274.78" cy="1963.63" r="6.9"/>
<circle cx="1319.15" cy="1973.59" r="6.9"/>
<circle cx="1272.87" cy="1984.25" r="6.9"/>
<circle cx="1339.51" cy="1986.23" r="6.9"/>
<circle cx="1349.91" cy="1895.3" r="6.9"/>
<circle cx="1337.12" cy="1950.25" r="6.9"/>
<circle cx="1290.96" cy="1974.85" r="6.9"/>
<circle cx="1363.64" cy="1938.94" r="6.9"/>
<circle cx="1265.17" cy="1936.46" r="6.9"/>
<circle cx="1336.29" cy="1927.9" r="6.9"/>
<circle cx="1301.54" cy="1956.57" r="6.9"/>
<circle cx="1321.43" cy="1928.07" r="6.9"/>
<circle cx="1253.2" cy="2004.46" r="6.9"/>
<circle cx="1292.89" cy="2007.82" r="6.9"/>
<circle cx="1366.44" cy="1929.08" r="6.9"/>
<circle cx="1340.3" cy="1976.54" r="6.9"/>
<circle cx="1280.17" cy="1928.99" r="6.9"/>
<circle cx="1313.56" cy="2021.97" r="6.9"/>
<circle cx="1317.12" cy="2038.97" r="6.9"/>
<circle cx="1359.83" cy="1914.43" r="6.9"/>
<circle cx="1335.17" cy="1972.13" r="6.9"/>
<circle cx="1320.7" cy="1957.4" r="6.9"/>
<circle cx="1316.7" cy="2054.95" r="6.9"/>
<circle cx="1287.06" cy="1985.91" r="6.9"/>
<circle cx="1339.27" cy="2007.93" r="6.9"/>
<circle cx="1358.87" cy="1925.44" r="6.9"/>
<circle cx="1331.95" cy="2074.92" r="6.9"/>
<circle cx="1351.43" cy="1923.84" r="6.9"/>
<circle cx="1316.27" cy="2016.62" r="6.9"/>
<circle cx="1323.13" cy="1944.07" r="6.9"/>
<circle cx="1315.41" cy="2005.3" r="6.9"/>
<circle cx="1330.64" cy="2009.19" r="6.9"/>
<circle cx="1317.62" cy="2050.28" r="6.9"/>
<circle cx="1335.73" cy="2053.9" r="6.9"/>
<circle cx="1306.41" cy="1915.64" r="6.9"/>
<circle cx="1282.99" cy="2021.44" r="6.9"/>
<circle cx="1293.84" cy="1951.07" r="6.9"/>
<circle cx="1287.47" cy="1926.78" r="6.9"/>
<circle cx="1328.73" cy="1912.37" r="6.9"/>
<circle cx="1333.02" cy="1996.96" r="6.9"/>
<circle cx="1348.79" cy="1960.19" r="6.9"/>
<circle cx="1358.95" cy="1901.49" r="6.9"/>
<circle cx="1318.83" cy="1979.79" r="6.9"/>
</g>
<line x1="1246.6" y1="1960.8" x2="1392" y2="1960.8" stroke="#000" stroke-width="3"/>
<g fill="none" stroke="#000" stroke-width="3.1">
<circle cx="1654.58" cy="1866.03" r="6.9"/>
<circle cx="1603.19" cy="1799.18" r="6.9"/>
<circle cx="1577.17" cy="1922.99" r="6.9"/>
<circle cx="1614.19" cy="1858.25" r="6.9"/>
<circle cx="1598.86" cy="1903.47" r="6.9"/>
<circle cx="1594.9" cy="1933.49" r="6.9"/>
<circle cx="1615.93" cy="1912.76" r="6.9"/>
<circle cx="1623.62" cy="1817.91" r="6.9"/>
<circle cx="1622.51" cy="1900.84" r="6.9"/>
<circle cx="1588.9" cy="1808.36" r="6.9"/>
<circle cx="1642.45" cy="1902.54" r="6.9"/>
<circle cx="1624.18" cy="1837.22" r="6.9"/>
<circle cx="1574.97" cy="1902.03" r="6.9"/>
<circle cx="1629.43" cy="1952.44" r="6.9"/>
<circle cx="1615.13" cy="1847.02" r="6.9"/>
<circle cx="1626.95" cy="1886.76" r="6.9"/>
<circle cx="1576.92" cy="1912.62" r="6.9"/>
<circle cx="1589.73" cy="1949.54" r="6.9"/>
<circle cx="1637.97" cy="1879.66" r="6.9"/>
<circle cx="1634.19" cy="1858.81" r="6.9"/>
<circle cx="1594.98" cy="1834.45" r="6.9"/>
<circle cx="1612.45" cy="1925.48" r="6.9"/>
<circle cx="1600.96" cy="1860.06" r="6.9"/>
<circle cx="1611.36" cy="1840.54" r="6.9"/>
<circle cx="1569.18" cy="1877.33" r="6.9"/>
<circle cx="1589.78" cy="1903.69" r="6.9"/>
<circle cx="1654.54" cy="1933.57" r="6.9"/>
<circle cx="1567.82" cy="1899.72" r="6.9"/>
<circle cx="1611.65" cy="1943.04" r="6.9"/>
<circle cx="1609.41" cy="1883.54" r="6.9"/>
<circle cx="1632.88" cy="1945.58" r="6.9"/>
<circle cx="1621.44" cy="1822.11" r="6.9"/>
<circle cx="1638.87" cy="1892.07" r="6.9"/>
<circle cx="1596.81" cy="1797.54" r="6.9"/>
<circle cx="1565.59" cy="1868.24" r="6.9"/>
<circle cx="1602.11" cy="1889.61" r="6.9"/>
<circle cx="1601.67" cy="1802.27" r="6.9"/>
<circle cx="1559.6" cy="1870.61" r="6.9"/>
<circle cx="1609.31" cy="1836.58" r="6.9"/>
<circle cx="1631.46" cy="1923.25" r="6.9"/>
<circle cx="1613.72" cy="1863.47" r="6.9"/>
<circle cx="1641.77" cy="1869.6" r="6.9"/>
<circle cx="1616.6" cy="1808.73" r="6.9"/>
<circle cx="1622.02" cy="1797.64" r="6.9"/>
<circle cx="1624.63" cy="1944.31" r="6.9"/>
<circle cx="1621.37" cy="1807.77" r="6.9"/>
<circle cx="1629.58" cy="1911.21" r="6.9"/>
<circle cx="1586.85" cy="1945.47" r="6.9"/>
<circle cx="1603.07" cy="1847.52" r="6.9"/>
<circle cx="1616.9" cy="1891.92" r="6.9"/>
<circle cx="1586.27" cy="1868.05" r="6.9"/>
<circle cx="1550.79" cy="1881.42" r="6.9"/>
<circle cx="1590.49" cy="1951.34" r="6.9"/>
<circle cx="1599.32" cy="1825.4" r="6.9"/>
<circle cx="1602.74" cy="1908.98" r="6.9"/>
<circle cx="1633.88" cy="1901.85" r="6.9"/>
<circle cx="1589.38" cy="1877.8" r="6.9"/>
<circle cx="1581.35" cy="1933.23" r="6.9"/>
<circle cx="1597.58" cy="1955.96" r="6.9"/>
<circle cx="1590.31" cy="1919.75" r="6.9"/>
<circle cx="1611.61" cy="1840.31" r="6.9"/>
<circle cx="1631.7" cy="1893.07" r="6.9"/>
<circle cx="1627.53" cy="1855.16" r="6.9"/>
<circle cx="1648.09" cy="1934.46" r="6.9"/>
<circle cx="1607.56" cy="1949.78" r="6.9"/>
<circle cx="1618.08" cy="1941.91" r="6.9"/>
<circle cx="1668.37" cy="1868.53" r="6.9"/>
<circle cx="1611.2" cy="1877.78" r="6.9"/>
<circle cx="1568.81" cy="1931.61" r="6.9"/>
<circle cx="1609.51" cy="1953.27" r="6.9"/>
<circle cx="1617.48" cy="1955.2" r="6.9"/>
<circle cx="1636.16" cy="1846.61" r="6.9"/>
<circle cx="1608.31" cy="1856.1" r="6.9"/>
<circle cx="1635.21" cy="1952.32" r="6.9"/>
<circle cx="1641.29" cy="1855.89" r="6.9"/>
<circle cx="1610.76" cy="1802.26" r="6.9"/>
<circle cx="1544.28" cy="1869.78" r="6.9"/>
<circle cx="1592.63" cy="1843.99" r="6.9"/>
<circle cx="1613.41" cy="1822.91" r="6.9"/>
<circle cx="1645.85" cy="1891.7" r="6.9"/>
<circle cx="1611.29" cy="1880.81" r="6.9"/>
<circle cx="1677.1" cy="1868.53" r="6.9"/>
<circle cx="1653.88" cy="1902.57" r="6.9"/>
<circle cx="1581.59" cy="1887.71" r="6.9"/>
<circle cx="1619.85" cy="1821.18" r="6.9"/>
<circle cx="1651.23" cy="1878.44" r="6.9"/>
<circle cx="1647.46" cy="1869.19" r="6.9"/>
<circle cx="1613.1" cy="1868.44" r="6.9"/>
<circle cx="1590.24" cy="1913.43" r="6.9"/>
<circle cx="1610.4" cy="1807.37" r="6.9"/>
<circle cx="1597.93" cy="1843.94" r="6.9"/>
<circle cx="1622.04" cy="1952.95" r="6.9"/>
<circle cx="1596.4" cy="1878.99" r="6.9"/>
<circle cx="1598.11" cy="1854.93" r="6.9"/>
<circle cx="1614.49" cy="1932.13" r="6.9"/>
<circle cx="1613.58" cy="1884.17" r="6.9"/>
<circle cx="1609.97" cy="1840.59" r="6.9"/>
<circle cx="1617.72" cy="1920.68" r="6.9"/>
<circle cx="1596.41" cy="1900.2" r="6.9"/>
<circle cx="1583.87" cy="1848.18" r="6.9"/>
<circle cx="1606.27" cy="1796.24" r="6.9"/>
<circle cx="1562.5" cy="1880.51" r="6.9"/>
<circle cx="1607.15" cy="1896.98" r="6.9"/>
<circle cx="1580.64" cy="1859.79" r="6.9"/>
<circle cx="1630.11" cy="1845.04" r="6.9"/>
<circle cx="1608.58" cy="1816.23" r="6.9"/>
<circle cx="1574.48" cy="1888.38" r="6.9"/>
<circle cx="1641.74" cy="1933.41" r="6.9"/>
<circle cx="1602.05" cy="1934.97" r="6.9"/>
<circle cx="1635.87" cy="1933.06" r="6.9"/>
<circle cx="1611.18" cy="1912.65" r="6.9"/>
<circle cx="1629.71" cy="1818.02" r="6.9"/>
<circle cx="1579.77" cy="1945.83" r="6.9"/>
<circle cx="1606.83" cy="1941.33" r="6.9"/>
<circle cx="1585.03" cy="1910.35" r="6.9"/>
<circle cx="1586.69" cy="1858.22" r="6.9"/>
<circle cx="1622.34" cy="1933.43" r="6.9"/>
<circle cx="1626.02" cy="1868.07" r="6.9"/>
<circle cx="1614.6" cy="1864.13" r="6.9"/>
<circle cx="1573.45" cy="1870.68" r="6.9"/>
<circle cx="1602.95" cy="1809.33" r="6.9"/>
<circle cx="1632.1" cy="1882.51" r="6.9"/>
<circle cx="1597.59" cy="1909.08" r="6.9"/>
<circle cx="1593.2" cy="1870.68" r="6.9"/>
<circle cx="1602.53" cy="1955.87" r="6.9"/>
<circle cx="1596.59" cy="1812.42" r="6.9"/>
<circle cx="1580.84" cy="1870.57" r="6.9"/>
<circle cx="1556.41" cy="1879.19" r="6.9"/>
<circle cx="1610.69" cy="1841.78" r="6.9"/>
<circle cx="1612" cy="1961.92" r="6.9"/>
<circle cx="1601.37" cy="1866.57" r="6.9"/>
<circle cx="1607.56" cy="1933.72" r="6.9"/>
<circle cx="1615.4" cy="1903.2" r="6.9"/>
<circle cx="1608.95" cy="1891.88" r="6.9"/>
<circle cx="1588.62" cy="1893.03" r="6.9"/>
<circle cx="1593.98" cy="1942.01" r="6.9"/>
<circle cx="1596.49" cy="1891.45" r="6.9"/>
<circle cx="1619.17" cy="1861.37" r="6.9"/>
<circle cx="1566.2" cy="1892.88" r="6.9"/>
<circle cx="1583.23" cy="1900.66" r="6.9"/>
<circle cx="1623.48" cy="1888.8" r="6.9"/>
<circle cx="1648.66" cy="1900.83" r="6.9"/>
<circle cx="1609.13" cy="1958.33" r="6.9"/>
<circle cx="1643.84" cy="1877.53" r="6.9"/>
<circle cx="1628.65" cy="1902.63" r="6.9"/>
<circle cx="1616.04" cy="1830.2" r="6.9"/>
<circle cx="1607.08" cy="1871.71" r="6.9"/>
<circle cx="1589.38" cy="1797.98" r="6.9"/>
<circle cx="1620.25" cy="1857.09" r="6.9"/>
<circle cx="1629.53" cy="1801.76" r="6.9"/>
<circle cx="1607.78" cy="1899.3" r="6.9"/>
<circle cx="1606.53" cy="1946.41" r="6.9"/>
<circle cx="1625.06" cy="1923.17" r="6.9"/>
<circle cx="1661.85" cy="1870.1" r="6.9"/>
<circle cx="1562.01" cy="1898.32" r="6.9"/>
<circle cx="1608.92" cy="1846.02" r="6.9"/>
<circle cx="1603" cy="1881.85" r="6.9"/>
<circle cx="1562.42" cy="1930.69" r="6.9"/>
<circle cx="1582.73" cy="1954.55" r="6.9"/>
<circle cx="1642.37" cy="1845.83" r="6.9"/>
<circle cx="1651.5" cy="1890.45" r="6.9"/>
<circle cx="1576.32" cy="1877.86" r="6.9"/>
<circle cx="1589.27" cy="1933.7" r="6.9"/>
<circle cx="1592.62" cy="1858.43" r="6.9"/>
<circle cx="1576.71" cy="1846.5" r="6.9"/>
<circle cx="1599.61" cy="1945.84" r="6.9"/>
<circle cx="1616.31" cy="1841.33" r="6.9"/>
<circle cx="1618.06" cy="1801.92" r="6.9"/>
<circle cx="1620.69" cy="1867.2" r="6.9"/>
<circle cx="1601.24" cy="1899.43" r="6.9"/>
<circle cx="1598.76" cy="1938" r="6.9"/>
<circle cx="1624.51" cy="1911.81" r="6.9"/>
<circle cx="1638.44" cy="1921.09" r="6.9"/>
<circle cx="1603.33" cy="1835.7" r="6.9"/>
<circle cx="1635.63" cy="1908.21" r="6.9"/>
<circle cx="1616.69" cy="1883.9" r="6.9"/>
<circle cx="1615.29" cy="1799.56" r="6.9"/>
<circle cx="1584.9" cy="1919.29" r="6.9"/>
<circle cx="1616.5" cy="1834.98" r="6.9"/>
<circle cx="1659.18" cy="1877.86" r="6.9"/>
<circle cx="1606.23" cy="1867.03" r="6.9"/>
<circle cx="1628.43" cy="1934.84" r="6.9"/>
<circle cx="1623.36" cy="1846.49" r="6.9"/>
<circle cx="1609.06" cy="1872.32" r="6.9"/>
<circle cx="1649.73" cy="1913.36" r="6.9"/>
<circle cx="1644.22" cy="1911.77" r="6.9"/>
<circle cx="1617.11" cy="1878.9" r="6.9"/>
<circle cx="1574.35" cy="1935.06" r="6.9"/>
<circle cx="1608.33" cy="1862.99" r="6.9"/>
<circle cx="1624.16" cy="1877.64" r="6.9"/>
<circle cx="1610.39" cy="1923.21" r="6.9"/>
<circle cx="1609.51" cy="1939" r="6.9"/>
<circle cx="1633.63" cy="1868.9" r="6.9"/>
<circle cx="1614.59" cy="1837.27" r="6.9"/>
<circle cx="1590.85" cy="1844.89" r="6.9"/>
<circle cx="1604.06" cy="1842.09" r="6.9"/>
<circle cx="1583.41" cy="1877.25" r="6.9"/>
<circle cx="1603.91" cy="1920.46" r="6.9"/>
<circle cx="1605.66" cy="1824.09" r="6.9"/>
<circle cx="1597.07" cy="1921.39" r="6.9"/>
<circle cx="1608.69" cy="1799.97" r="6.9"/>
</g>
<line x1="1538" y1="1881.6" x2="1682.3" y2="1881.6" stroke="#000" stroke-width="3"/>
<line x1="1726" y1="1996.2" x2="1726" y2="2256.2" stroke="#1a1a1a" stroke-width="1.7"/>
<line x1="1725.2" y1="2255.4" x2="1985.2" y2="2255.4" stroke="#1a1a1a" stroke-width="1.7"/>
<line x1="1720.5" y1="2255.4" x2="1726" y2="2255.4" stroke="#1a1a1a" stroke-width="1.7"/>
<text transform="translate(1719.7 2263.7) scale(1 1.045)" font-size="22.8" text-anchor="end" fill="#1a1a1a">0.0</text>
<line x1="1720.5" y1="2169.26" x2="1726" y2="2169.26" stroke="#1a1a1a" stroke-width="1.7"/>
<text transform="translate(1719.7 2177.57) scale(1 1.045)" font-size="22.8" text-anchor="end" fill="#1a1a1a">0.5</text>
<line x1="1720.5" y1="2083.13" x2="1726" y2="2083.13" stroke="#1a1a1a" stroke-width="1.7"/>
<text transform="translate(1719.7 2091.43) scale(1 1.045)" font-size="22.8" text-anchor="end" fill="#1a1a1a">1.0</text>
<line x1="1720.5" y1="1997" x2="1726" y2="1997" stroke="#1a1a1a" stroke-width="1.7"/>
<text transform="translate(1719.7 2005.3) scale(1 1.045)" font-size="22.8" text-anchor="end" fill="#1a1a1a">1.5</text>
<line x1="1726" y1="2255.4" x2="1726" y2="2261.9" stroke="#1a1a1a" stroke-width="1.7"/>
<text transform="translate(1726.3 2286) scale(1 1.045)" font-size="22.8" text-anchor="middle" fill="#1a1a1a">5.0</text>
<line x1="1777.68" y1="2255.4" x2="1777.68" y2="2261.9" stroke="#1a1a1a" stroke-width="1.7"/>
<text transform="translate(1777.98 2286) scale(1 1.045)" font-size="22.8" text-anchor="middle" fill="#1a1a1a">5.5</text>
<line x1="1829.36" y1="2255.4" x2="1829.36" y2="2261.9" stroke="#1a1a1a" stroke-width="1.7"/>
<text transform="translate(1829.66 2286) scale(1 1.045)" font-size="22.8" text-anchor="middle" fill="#1a1a1a">6.0</text>
<line x1="1881.04" y1="2255.4" x2="1881.04" y2="2261.9" stroke="#1a1a1a" stroke-width="1.7"/>
<text transform="translate(1881.34 2286) scale(1 1.045)" font-size="22.8" text-anchor="middle" fill="#1a1a1a">6.5</text>
<line x1="1932.72" y1="2255.4" x2="1932.72" y2="2261.9" stroke="#1a1a1a" stroke-width="1.7"/>
<text transform="translate(1933.02 2286) scale(1 1.045)" font-size="22.8" text-anchor="middle" fill="#1a1a1a">7.0</text>
<line x1="1984.4" y1="2255.4" x2="1984.4" y2="2261.9" stroke="#1a1a1a" stroke-width="1.7"/>
<text transform="translate(1984.7 2286) scale(1 1.045)" font-size="22.8" text-anchor="middle" fill="#1a1a1a">7.5</text>
<text transform="translate(1854.6 2315.6) scale(1 1.025)" font-size="22.6" text-anchor="middle" fill="#1a1a1a">pH</text>
<text transform="translate(1651.5 2120.5) rotate(-90) scale(1 1.007)" font-size="22.85" text-anchor="middle" fill="#1a1a1a">Mean fluorescence intensity</text>
<text transform="translate(1678.5 2120.5) rotate(-90) scale(1 1.018)" font-size="22.85" text-anchor="middle" fill="#1a1a1a">(pHrodo Red: Alexa 633nm)</text>
<line x1="1777.68" y1="2131.6" x2="1932.72" y2="2194.8" stroke="#1a1a1a" stroke-width="1.7"/>
<line x1="1777.68" y1="2119.1" x2="1777.68" y2="2133.4" stroke="#1a1a1a" stroke-width="1.7"/>
<line x1="1774.18" y1="2119.1" x2="1781.18" y2="2119.1" stroke="#1a1a1a" stroke-width="1.7"/>
<line x1="1774.18" y1="2133.4" x2="1781.18" y2="2133.4" stroke="#1a1a1a" stroke-width="1.7"/>
<circle cx="1777.68" cy="2126.6" r="3.4" fill="#fff" stroke="#1a1a1a" stroke-width="1.6"/>
<line x1="1829.36" y1="2148" x2="1829.36" y2="2170.5" stroke="#1a1a1a" stroke-width="1.7"/>
<line x1="1825.86" y1="2148" x2="1832.86" y2="2148" stroke="#1a1a1a" stroke-width="1.7"/>
<line x1="1825.86" y1="2170.5" x2="1832.86" y2="2170.5" stroke="#1a1a1a" stroke-width="1.7"/>
<circle cx="1829.36" cy="2158.6" r="3.4" fill="#fff" stroke="#1a1a1a" stroke-width="1.6"/>
<line x1="1881.04" y1="2173" x2="1881.04" y2="2183.9" stroke="#1a1a1a" stroke-width="1.7"/>
<line x1="1877.54" y1="2173" x2="1884.54" y2="2173" stroke="#1a1a1a" stroke-width="1.7"/>
<line x1="1877.54" y1="2183.9" x2="1884.54" y2="2183.9" stroke="#1a1a1a" stroke-width="1.7"/>
<circle cx="1881.04" cy="2178.3" r="3.4" fill="#fff" stroke="#1a1a1a" stroke-width="1.6"/>
<line x1="1932.72" y1="2181.4" x2="1932.72" y2="2198.8" stroke="#1a1a1a" stroke-width="1.7"/>
<line x1="1929.22" y1="2181.4" x2="1936.22" y2="2181.4" stroke="#1a1a1a" stroke-width="1.7"/>
<line x1="1929.22" y1="2198.8" x2="1936.22" y2="2198.8" stroke="#1a1a1a" stroke-width="1.7"/>
<circle cx="1932.72" cy="2190.1" r="3.4" fill="#fff" stroke="#1a1a1a" stroke-width="1.6"/>
</g>
</svg>
</body>
</html>
